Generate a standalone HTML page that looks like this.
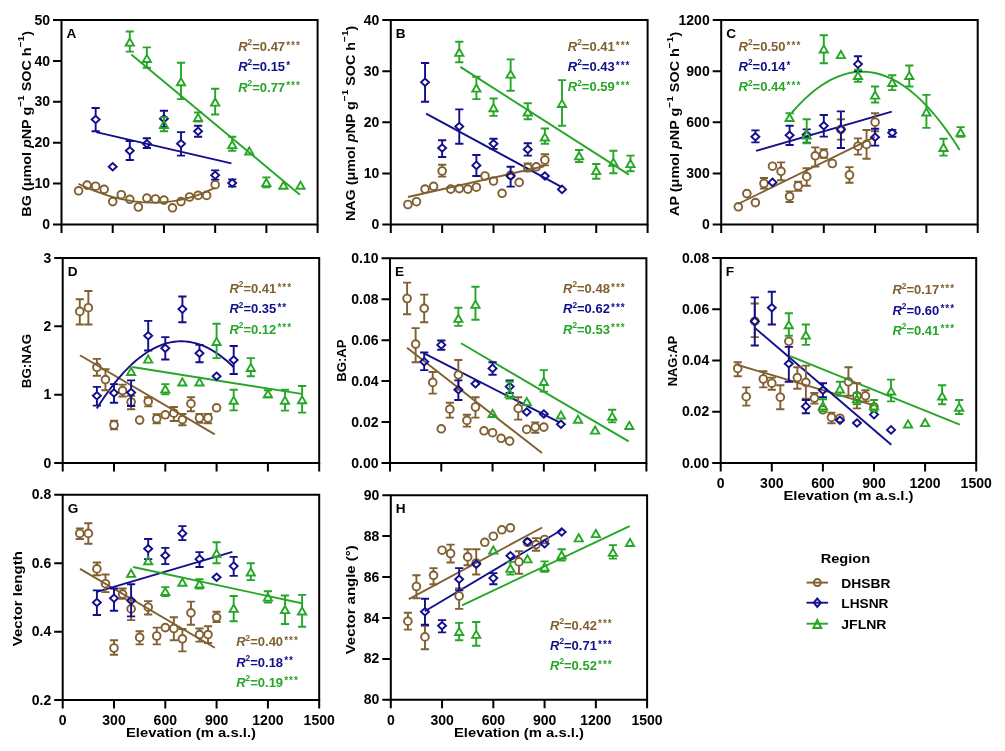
<!DOCTYPE html>
<html><head><meta charset="utf-8"><style>
html,body{margin:0;padding:0;background:#fff;width:1005px;height:751px;overflow:hidden}
svg{display:block;filter:blur(0.35px)}
text{font-family:"Liberation Sans", sans-serif;font-weight:bold}
.t{font-size:14px;fill:#000}
.yt{font-size:13.6px;fill:#000}
.st{font-size:10px;letter-spacing:1px}
.pl{font-size:13.6px;fill:#000}
.lg{font-size:13.6px;fill:#000}
.r{font-size:13px}
</style></head><body>
<svg width="1005" height="751" viewBox="0 0 1005 751">
<rect width="1005" height="751" fill="#fff"/>
<path d="M131.30 54.40L299.90 194.70" stroke="#26a626" stroke-width="1.9" fill="none"/>
<path d="M96.30 132.10L231.40 163.40" stroke="#120e8c" stroke-width="1.9" fill="none"/>
<path d="M78.50 183.84 L82.00 185.49 L85.50 187.07 L89.00 188.58 L92.50 190.02 L96.00 191.39 L99.50 192.69 L103.00 193.91 L106.50 195.05 L110.00 196.12 L113.50 197.12 L117.00 198.03 L120.50 198.86 L124.00 199.62 L127.50 200.29 L131.00 200.88 L134.50 201.39 L138.00 201.81 L141.50 202.15 L145.00 202.40 L148.50 202.56 L152.00 202.64 L155.50 202.62 L159.00 202.52 L162.50 202.32 L166.00 202.03 L169.50 201.65 L173.00 201.17 L176.50 200.60 L180.00 199.92 L183.50 199.16 L187.00 198.29 L190.50 197.32 L194.00 196.25 L197.50 195.08 L201.00 193.81 L204.50 192.43 L208.00 190.95 L211.50 189.36 L215.00 187.67" stroke="#806030" stroke-width="1.9" fill="none"/>
<circle cx="78.57" cy="190.80" r="3.85" fill="none" stroke="#806030" stroke-width="1.9"/>
<circle cx="87.11" cy="185.10" r="3.85" fill="none" stroke="#806030" stroke-width="1.9"/>
<circle cx="95.65" cy="186.20" r="3.85" fill="none" stroke="#806030" stroke-width="1.9"/>
<circle cx="104.18" cy="189.30" r="3.85" fill="none" stroke="#806030" stroke-width="1.9"/>
<circle cx="112.72" cy="201.60" r="3.85" fill="none" stroke="#806030" stroke-width="1.9"/>
<circle cx="121.26" cy="194.70" r="3.85" fill="none" stroke="#806030" stroke-width="1.9"/>
<circle cx="129.79" cy="199.30" r="3.85" fill="none" stroke="#806030" stroke-width="1.9"/>
<circle cx="138.33" cy="207.00" r="3.85" fill="none" stroke="#806030" stroke-width="1.9"/>
<circle cx="146.87" cy="198.10" r="3.85" fill="none" stroke="#806030" stroke-width="1.9"/>
<circle cx="155.40" cy="199.00" r="3.85" fill="none" stroke="#806030" stroke-width="1.9"/>
<circle cx="163.94" cy="200.10" r="3.85" fill="none" stroke="#806030" stroke-width="1.9"/>
<circle cx="172.48" cy="207.80" r="3.85" fill="none" stroke="#806030" stroke-width="1.9"/>
<circle cx="181.01" cy="201.60" r="3.85" fill="none" stroke="#806030" stroke-width="1.9"/>
<circle cx="189.55" cy="197.00" r="3.85" fill="none" stroke="#806030" stroke-width="1.9"/>
<circle cx="198.09" cy="195.40" r="3.85" fill="none" stroke="#806030" stroke-width="1.9"/>
<circle cx="206.62" cy="195.40" r="3.85" fill="none" stroke="#806030" stroke-width="1.9"/>
<circle cx="215.16" cy="184.70" r="3.85" fill="none" stroke="#806030" stroke-width="1.9"/>
<path d="M95.65 115.75V108.00M91.55 108.00H99.75M95.65 123.25V131.30M91.55 131.30H99.75" fill="none" stroke="#120e8c" stroke-width="1.9"/>
<path d="M91.65 119.50L95.65 115.75L99.65 119.50L95.65 123.25Z" fill="none" stroke="#120e8c" stroke-width="1.9"/>
<path d="M108.72 166.80L112.72 163.05L116.72 166.80L112.72 170.55Z" fill="none" stroke="#120e8c" stroke-width="1.9"/>
<path d="M129.79 147.05V141.00M125.69 141.00H133.89M129.79 154.55V160.00M125.69 160.00H133.89" fill="none" stroke="#120e8c" stroke-width="1.9"/>
<path d="M125.79 150.80L129.79 147.05L133.79 150.80L129.79 154.55Z" fill="none" stroke="#120e8c" stroke-width="1.9"/>
<path d="M146.87 140.05V138.20M142.77 138.20H150.97M146.87 147.55V148.00M142.77 148.00H150.97" fill="none" stroke="#120e8c" stroke-width="1.9"/>
<path d="M142.87 143.80L146.87 140.05L150.87 143.80L146.87 147.55Z" fill="none" stroke="#120e8c" stroke-width="1.9"/>
<path d="M163.94 114.95V110.80M159.84 110.80H168.04M163.94 122.45V127.00M159.84 127.00H168.04" fill="none" stroke="#120e8c" stroke-width="1.9"/>
<path d="M159.94 118.70L163.94 114.95L167.94 118.70L163.94 122.45Z" fill="none" stroke="#120e8c" stroke-width="1.9"/>
<path d="M181.01 140.05V132.10M176.91 132.10H185.11M181.01 147.55V155.60M176.91 155.60H185.11" fill="none" stroke="#120e8c" stroke-width="1.9"/>
<path d="M177.01 143.80L181.01 140.05L185.01 143.80L181.01 147.55Z" fill="none" stroke="#120e8c" stroke-width="1.9"/>
<path d="M198.09 127.55V125.70M193.99 125.70H202.19M198.09 135.05V136.80M193.99 136.80H202.19" fill="none" stroke="#120e8c" stroke-width="1.9"/>
<path d="M194.09 131.30L198.09 127.55L202.09 131.30L198.09 135.05Z" fill="none" stroke="#120e8c" stroke-width="1.9"/>
<path d="M215.16 171.45V170.40M211.06 170.40H219.26M215.16 178.95V179.60M211.06 179.60H219.26" fill="none" stroke="#120e8c" stroke-width="1.9"/>
<path d="M211.16 175.20L215.16 171.45L219.16 175.20L215.16 178.95Z" fill="none" stroke="#120e8c" stroke-width="1.9"/>
<path d="M228.13 179.40H236.33M228.13 186.60H236.33" fill="none" stroke="#120e8c" stroke-width="1.9"/>
<path d="M228.23 183.00L232.23 179.25L236.23 183.00L232.23 186.75Z" fill="none" stroke="#120e8c" stroke-width="1.9"/>
<path d="M129.79 38.50V31.50M125.69 31.50H133.89M129.79 45.65V51.60M125.69 51.60H133.89" fill="none" stroke="#26a626" stroke-width="1.9"/>
<path d="M129.79 38.50L133.89 45.65L125.69 45.65Z" fill="none" stroke="#26a626" stroke-width="1.9"/>
<path d="M146.87 54.90V47.40M142.77 47.40H150.97M146.87 62.05V67.80M142.77 67.80H150.97" fill="none" stroke="#26a626" stroke-width="1.9"/>
<path d="M146.87 54.90L150.97 62.05L142.77 62.05Z" fill="none" stroke="#26a626" stroke-width="1.9"/>
<path d="M163.94 120.90V117.30M159.84 117.30H168.04M163.94 128.05V131.30M159.84 131.30H168.04" fill="none" stroke="#26a626" stroke-width="1.9"/>
<path d="M163.94 120.90L168.04 128.05L159.84 128.05Z" fill="none" stroke="#26a626" stroke-width="1.9"/>
<path d="M181.01 78.10V62.70M176.91 62.70H185.11M181.01 85.25V99.10M176.91 99.10H185.11" fill="none" stroke="#26a626" stroke-width="1.9"/>
<path d="M181.01 78.10L185.11 85.25L176.91 85.25Z" fill="none" stroke="#26a626" stroke-width="1.9"/>
<path d="M198.09 113.90V112.50M193.99 112.50H202.19M198.09 121.05V121.50M193.99 121.50H202.19" fill="none" stroke="#26a626" stroke-width="1.9"/>
<path d="M198.09 113.90L202.19 121.05L193.99 121.05Z" fill="none" stroke="#26a626" stroke-width="1.9"/>
<path d="M215.16 98.50V88.70M211.06 88.70H219.26M215.16 105.65V114.50M211.06 114.50H219.26" fill="none" stroke="#26a626" stroke-width="1.9"/>
<path d="M215.16 98.50L219.26 105.65L211.06 105.65Z" fill="none" stroke="#26a626" stroke-width="1.9"/>
<path d="M232.23 141.00V136.80M228.13 136.80H236.33M232.23 148.15V150.80M228.13 150.80H236.33" fill="none" stroke="#26a626" stroke-width="1.9"/>
<path d="M232.23 141.00L236.33 148.15L228.13 148.15Z" fill="none" stroke="#26a626" stroke-width="1.9"/>
<path d="M249.31 147.40L253.41 154.55L245.21 154.55Z" fill="none" stroke="#26a626" stroke-width="1.9"/>
<path d="M266.38 179.00V177.40M262.28 177.40H270.48M266.38 186.15V187.20M262.28 187.20H270.48" fill="none" stroke="#26a626" stroke-width="1.9"/>
<path d="M266.38 179.00L270.48 186.15L262.28 186.15Z" fill="none" stroke="#26a626" stroke-width="1.9"/>
<path d="M283.45 181.60L287.55 188.75L279.35 188.75Z" fill="none" stroke="#26a626" stroke-width="1.9"/>
<path d="M300.53 181.60L304.63 188.75L296.43 188.75Z" fill="none" stroke="#26a626" stroke-width="1.9"/>
<path d="M61.5 20.0H317.6V224.5H61.5Z" fill="none" stroke="#000" stroke-width="2"/>
<path d="M53.00 224.50H61.5M53.00 183.60H61.5M53.00 142.70H61.5M53.00 101.80H61.5M53.00 60.90H61.5M53.00 20.00H61.5M61.50 224.5V233.00M112.72 224.5V233.00M163.94 224.5V233.00M215.16 224.5V233.00M266.38 224.5V233.00M317.60 224.5V233.00" stroke="#000" stroke-width="2" fill="none"/>
<text x="50.00" y="229.10" text-anchor="end" class="t">0</text>
<text x="50.00" y="188.20" text-anchor="end" class="t">10</text>
<text x="50.00" y="147.30" text-anchor="end" class="t">20</text>
<text x="50.00" y="106.40" text-anchor="end" class="t">30</text>
<text x="50.00" y="65.50" text-anchor="end" class="t">40</text>
<text x="50.00" y="24.60" text-anchor="end" class="t">50</text>
<text x="66.50" y="37.90" class="pl">A</text>
<text x="238.20" y="51.10" class="r" fill="#806030"><tspan font-style="italic">R</tspan><tspan font-size="8.3" dy="-5.9">2</tspan><tspan dy="5.9">=0.47</tspan></text>
<text x="286.20" y="48.70" class="st" fill="#806030">***</text>
<text x="238.20" y="71.30" class="r" fill="#120e8c"><tspan font-style="italic">R</tspan><tspan font-size="8.3" dy="-5.9">2</tspan><tspan dy="5.9">=0.15</tspan></text>
<text x="286.20" y="68.90" class="st" fill="#120e8c">*</text>
<text x="238.20" y="91.50" class="r" fill="#26a626"><tspan font-style="italic">R</tspan><tspan font-size="8.3" dy="-5.9">2</tspan><tspan dy="5.9">=0.77</tspan></text>
<text x="286.20" y="89.10" class="st" fill="#26a626">***</text>
<text transform="translate(30.60,123.85) rotate(-90)" x="-92.85" y="0" textLength="185.7" lengthAdjust="spacingAndGlyphs" class="yt"><tspan>BG (</tspan><tspan>μmol </tspan><tspan font-style="italic">p</tspan><tspan>NP g</tspan><tspan font-size="9.6" dy="-6.5">−1</tspan><tspan dy="6.5">​</tspan><tspan> SOC h</tspan><tspan font-size="9.6" dy="-6.5">−1</tspan><tspan dy="6.5">​</tspan><tspan>)</tspan></text>
<path d="M460.30 66.90L628.90 174.60" stroke="#26a626" stroke-width="1.9" fill="none"/>
<path d="M426.10 113.60L561.80 187.20" stroke="#120e8c" stroke-width="1.9" fill="none"/>
<path d="M408.00 197.00L544.20 166.20" stroke="#806030" stroke-width="1.9" fill="none"/>
<circle cx="407.92" cy="204.50" r="3.85" fill="none" stroke="#806030" stroke-width="1.9"/>
<circle cx="416.48" cy="201.70" r="3.85" fill="none" stroke="#806030" stroke-width="1.9"/>
<circle cx="425.04" cy="189.10" r="3.85" fill="none" stroke="#806030" stroke-width="1.9"/>
<circle cx="433.60" cy="186.30" r="3.85" fill="none" stroke="#806030" stroke-width="1.9"/>
<path d="M442.16 167.15V164.80M438.06 164.80H446.26M442.16 174.85V176.60M438.06 176.60H446.26" fill="none" stroke="#806030" stroke-width="1.9"/>
<circle cx="442.16" cy="171.00" r="3.85" fill="none" stroke="#806030" stroke-width="1.9"/>
<circle cx="450.72" cy="189.10" r="3.85" fill="none" stroke="#806030" stroke-width="1.9"/>
<circle cx="459.28" cy="188.60" r="3.85" fill="none" stroke="#806030" stroke-width="1.9"/>
<circle cx="467.84" cy="189.10" r="3.85" fill="none" stroke="#806030" stroke-width="1.9"/>
<circle cx="476.40" cy="187.20" r="3.85" fill="none" stroke="#806030" stroke-width="1.9"/>
<circle cx="484.96" cy="176.00" r="3.85" fill="none" stroke="#806030" stroke-width="1.9"/>
<circle cx="493.52" cy="181.00" r="3.85" fill="none" stroke="#806030" stroke-width="1.9"/>
<circle cx="502.08" cy="193.30" r="3.85" fill="none" stroke="#806030" stroke-width="1.9"/>
<circle cx="510.64" cy="175.20" r="3.85" fill="none" stroke="#806030" stroke-width="1.9"/>
<circle cx="519.20" cy="182.40" r="3.85" fill="none" stroke="#806030" stroke-width="1.9"/>
<path d="M527.76 163.75V163.40M523.66 163.40H531.86M523.66 171.40H531.86" fill="none" stroke="#806030" stroke-width="1.9"/>
<circle cx="527.76" cy="167.60" r="3.85" fill="none" stroke="#806030" stroke-width="1.9"/>
<circle cx="536.32" cy="166.80" r="3.85" fill="none" stroke="#806030" stroke-width="1.9"/>
<path d="M544.88 156.15V154.20M540.78 154.20H548.98M544.88 163.85V165.40M540.78 165.40H548.98" fill="none" stroke="#806030" stroke-width="1.9"/>
<circle cx="544.88" cy="160.00" r="3.85" fill="none" stroke="#806030" stroke-width="1.9"/>
<path d="M425.04 78.55V63.00M420.94 63.00H429.14M425.04 86.05V101.70M420.94 101.70H429.14" fill="none" stroke="#120e8c" stroke-width="1.9"/>
<path d="M421.04 82.30L425.04 78.55L429.04 82.30L425.04 86.05Z" fill="none" stroke="#120e8c" stroke-width="1.9"/>
<path d="M442.16 144.25V140.20M438.06 140.20H446.26M442.16 151.75V157.00M438.06 157.00H446.26" fill="none" stroke="#120e8c" stroke-width="1.9"/>
<path d="M438.16 148.00L442.16 144.25L446.16 148.00L442.16 151.75Z" fill="none" stroke="#120e8c" stroke-width="1.9"/>
<path d="M459.28 122.75V109.40M455.18 109.40H463.38M459.28 130.25V143.80M455.18 143.80H463.38" fill="none" stroke="#120e8c" stroke-width="1.9"/>
<path d="M455.28 126.50L459.28 122.75L463.28 126.50L459.28 130.25Z" fill="none" stroke="#120e8c" stroke-width="1.9"/>
<path d="M476.40 161.65V155.00M472.30 155.00H480.50M476.40 169.15V176.00M472.30 176.00H480.50" fill="none" stroke="#120e8c" stroke-width="1.9"/>
<path d="M472.40 165.40L476.40 161.65L480.40 165.40L476.40 169.15Z" fill="none" stroke="#120e8c" stroke-width="1.9"/>
<path d="M493.52 140.05V138.80M489.42 138.80H497.62M493.52 147.55V148.90M489.42 148.90H497.62" fill="none" stroke="#120e8c" stroke-width="1.9"/>
<path d="M489.52 143.80L493.52 140.05L497.52 143.80L493.52 147.55Z" fill="none" stroke="#120e8c" stroke-width="1.9"/>
<path d="M510.64 172.25V166.80M506.54 166.80H514.74M510.64 179.75V186.60M506.54 186.60H514.74" fill="none" stroke="#120e8c" stroke-width="1.9"/>
<path d="M506.64 176.00L510.64 172.25L514.64 176.00L510.64 179.75Z" fill="none" stroke="#120e8c" stroke-width="1.9"/>
<path d="M527.76 145.65V143.30M523.66 143.30H531.86M527.76 153.15V155.60M523.66 155.60H531.86" fill="none" stroke="#120e8c" stroke-width="1.9"/>
<path d="M523.76 149.40L527.76 145.65L531.76 149.40L527.76 153.15Z" fill="none" stroke="#120e8c" stroke-width="1.9"/>
<path d="M540.88 176.00L544.88 172.25L548.88 176.00L544.88 179.75Z" fill="none" stroke="#120e8c" stroke-width="1.9"/>
<path d="M558.00 189.40L562.00 185.65L566.00 189.40L562.00 193.15Z" fill="none" stroke="#120e8c" stroke-width="1.9"/>
<path d="M459.28 48.70V41.80M455.18 41.80H463.38M459.28 55.85V62.20M455.18 62.20H463.38" fill="none" stroke="#26a626" stroke-width="1.9"/>
<path d="M459.28 48.70L463.38 55.85L455.18 55.85Z" fill="none" stroke="#26a626" stroke-width="1.9"/>
<path d="M476.40 84.50V76.70M472.30 76.70H480.50M476.40 91.65V99.10M472.30 99.10H480.50" fill="none" stroke="#26a626" stroke-width="1.9"/>
<path d="M476.40 84.50L480.50 91.65L472.30 91.65Z" fill="none" stroke="#26a626" stroke-width="1.9"/>
<path d="M493.52 104.10V98.50M489.42 98.50H497.62M493.52 111.25V115.90M489.42 115.90H497.62" fill="none" stroke="#26a626" stroke-width="1.9"/>
<path d="M493.52 104.10L497.62 111.25L489.42 111.25Z" fill="none" stroke="#26a626" stroke-width="1.9"/>
<path d="M510.64 70.50V59.40M506.54 59.40H514.74M510.64 77.65V90.70M506.54 90.70H514.74" fill="none" stroke="#26a626" stroke-width="1.9"/>
<path d="M510.64 70.50L514.74 77.65L506.54 77.65Z" fill="none" stroke="#26a626" stroke-width="1.9"/>
<path d="M527.76 108.30V103.30M523.66 103.30H531.86M527.76 115.45V119.20M523.66 119.20H531.86" fill="none" stroke="#26a626" stroke-width="1.9"/>
<path d="M527.76 108.30L531.86 115.45L523.66 115.45Z" fill="none" stroke="#26a626" stroke-width="1.9"/>
<path d="M544.88 133.40V128.50M540.78 128.50H548.98M544.88 140.55V143.80M540.78 143.80H548.98" fill="none" stroke="#26a626" stroke-width="1.9"/>
<path d="M544.88 133.40L548.98 140.55L540.78 140.55Z" fill="none" stroke="#26a626" stroke-width="1.9"/>
<path d="M562.00 99.90V80.10M557.90 80.10H566.10M562.00 107.05V125.70M557.90 125.70H566.10" fill="none" stroke="#26a626" stroke-width="1.9"/>
<path d="M562.00 99.90L566.10 107.05L557.90 107.05Z" fill="none" stroke="#26a626" stroke-width="1.9"/>
<path d="M579.12 152.20V150.00M575.02 150.00H583.22M579.12 159.35V162.00M575.02 162.00H583.22" fill="none" stroke="#26a626" stroke-width="1.9"/>
<path d="M579.12 152.20L583.22 159.35L575.02 159.35Z" fill="none" stroke="#26a626" stroke-width="1.9"/>
<path d="M596.24 167.00V164.00M592.14 164.00H600.34M596.24 174.15V178.80M592.14 178.80H600.34" fill="none" stroke="#26a626" stroke-width="1.9"/>
<path d="M596.24 167.00L600.34 174.15L592.14 174.15Z" fill="none" stroke="#26a626" stroke-width="1.9"/>
<path d="M613.36 158.60V150.80M609.26 150.80H617.46M613.36 165.75V173.20M609.26 173.20H617.46" fill="none" stroke="#26a626" stroke-width="1.9"/>
<path d="M613.36 158.60L617.46 165.75L609.26 165.75Z" fill="none" stroke="#26a626" stroke-width="1.9"/>
<path d="M630.48 160.00V155.60M626.38 155.60H634.58M630.48 167.15V171.20M626.38 171.20H634.58" fill="none" stroke="#26a626" stroke-width="1.9"/>
<path d="M630.48 160.00L634.58 167.15L626.38 167.15Z" fill="none" stroke="#26a626" stroke-width="1.9"/>
<path d="M390.8 20.0H647.6V224.6H390.8Z" fill="none" stroke="#000" stroke-width="2"/>
<path d="M382.30 224.60H390.8M382.30 173.45H390.8M382.30 122.30H390.8M382.30 71.15H390.8M382.30 20.00H390.8M390.80 224.6V233.10M442.16 224.6V233.10M493.52 224.6V233.10M544.88 224.6V233.10M596.24 224.6V233.10M647.60 224.6V233.10" stroke="#000" stroke-width="2" fill="none"/>
<text x="379.30" y="229.20" text-anchor="end" class="t">0</text>
<text x="379.30" y="178.05" text-anchor="end" class="t">10</text>
<text x="379.30" y="126.90" text-anchor="end" class="t">20</text>
<text x="379.30" y="75.75" text-anchor="end" class="t">30</text>
<text x="379.30" y="24.60" text-anchor="end" class="t">40</text>
<text x="395.80" y="37.90" class="pl">B</text>
<text x="567.80" y="51.00" class="r" fill="#806030"><tspan font-style="italic">R</tspan><tspan font-size="8.3" dy="-5.9">2</tspan><tspan dy="5.9">=0.41</tspan></text>
<text x="615.80" y="48.60" class="st" fill="#806030">***</text>
<text x="567.80" y="71.20" class="r" fill="#120e8c"><tspan font-style="italic">R</tspan><tspan font-size="8.3" dy="-5.9">2</tspan><tspan dy="5.9">=0.43</tspan></text>
<text x="615.80" y="68.80" class="st" fill="#120e8c">***</text>
<text x="567.80" y="91.40" class="r" fill="#26a626"><tspan font-style="italic">R</tspan><tspan font-size="8.3" dy="-5.9">2</tspan><tspan dy="5.9">=0.59</tspan></text>
<text x="615.80" y="89.00" class="st" fill="#26a626">***</text>
<text transform="translate(354.60,123.35) rotate(-90)" x="-97.75" y="0" textLength="195.5" lengthAdjust="spacingAndGlyphs" class="yt"><tspan>NAG (</tspan><tspan>μmol </tspan><tspan font-style="italic">p</tspan><tspan>NP g</tspan><tspan font-size="9.6" dy="-6.5">−1</tspan><tspan dy="6.5">​</tspan><tspan> SOC h</tspan><tspan font-size="9.6" dy="-6.5">−1</tspan><tspan dy="6.5">​</tspan><tspan>)</tspan></text>
<path d="M792.00 112.50 L796.30 107.66 L800.60 103.13 L804.90 98.90 L809.20 94.98 L813.50 91.36 L817.80 88.05 L822.10 85.04 L826.40 82.34 L830.70 79.95 L835.00 77.85 L839.30 76.07 L843.60 74.59 L847.90 73.41 L852.20 72.54 L856.50 71.98 L860.80 71.72 L865.10 71.76 L869.40 72.12 L873.70 72.77 L878.00 73.73 L882.30 75.00 L886.60 76.57 L890.90 78.45 L895.20 80.63 L899.50 83.12 L903.80 85.91 L908.10 89.01 L912.40 92.41 L916.70 96.12 L921.00 100.14 L925.30 104.46 L929.60 109.08 L933.90 114.01 L938.20 119.25 L942.50 124.79 L946.80 130.63 L951.10 136.78 L955.40 143.24 L959.70 150.00" stroke="#26a626" stroke-width="1.9" fill="none"/>
<path d="M756.10 150.80L891.80 111.70" stroke="#120e8c" stroke-width="1.9" fill="none"/>
<path d="M738.00 204.00L875.00 136.80" stroke="#806030" stroke-width="1.9" fill="none"/>
<circle cx="738.30" cy="206.80" r="3.85" fill="none" stroke="#806030" stroke-width="1.9"/>
<circle cx="746.85" cy="193.60" r="3.85" fill="none" stroke="#806030" stroke-width="1.9"/>
<circle cx="755.40" cy="202.60" r="3.85" fill="none" stroke="#806030" stroke-width="1.9"/>
<path d="M763.95 179.65V178.00M759.85 178.00H768.05M763.95 187.35V188.60M759.85 188.60H768.05" fill="none" stroke="#806030" stroke-width="1.9"/>
<circle cx="763.95" cy="183.50" r="3.85" fill="none" stroke="#806030" stroke-width="1.9"/>
<circle cx="772.50" cy="166.20" r="3.85" fill="none" stroke="#806030" stroke-width="1.9"/>
<path d="M781.05 167.45V162.40M776.95 162.40H785.15M781.05 175.15V180.30M776.95 180.30H785.15" fill="none" stroke="#806030" stroke-width="1.9"/>
<circle cx="781.05" cy="171.30" r="3.85" fill="none" stroke="#806030" stroke-width="1.9"/>
<path d="M789.60 192.55V191.40M785.50 191.40H793.70M789.60 200.25V202.00M785.50 202.00H793.70" fill="none" stroke="#806030" stroke-width="1.9"/>
<circle cx="789.60" cy="196.40" r="3.85" fill="none" stroke="#806030" stroke-width="1.9"/>
<path d="M798.15 182.05V181.60M794.05 181.60H802.25M798.15 189.75V190.80M794.05 190.80H802.25" fill="none" stroke="#806030" stroke-width="1.9"/>
<circle cx="798.15" cy="185.90" r="3.85" fill="none" stroke="#806030" stroke-width="1.9"/>
<path d="M806.70 172.85V168.30M802.60 168.30H810.80M806.70 180.55V185.70M802.60 185.70H810.80" fill="none" stroke="#806030" stroke-width="1.9"/>
<circle cx="806.70" cy="176.70" r="3.85" fill="none" stroke="#806030" stroke-width="1.9"/>
<path d="M815.25 151.95V147.40M811.15 147.40H819.35M815.25 159.65V166.50M811.15 166.50H819.35" fill="none" stroke="#806030" stroke-width="1.9"/>
<circle cx="815.25" cy="155.80" r="3.85" fill="none" stroke="#806030" stroke-width="1.9"/>
<path d="M823.80 150.15V149.20M819.70 149.20H827.90M819.70 157.80H827.90" fill="none" stroke="#806030" stroke-width="1.9"/>
<circle cx="823.80" cy="154.00" r="3.85" fill="none" stroke="#806030" stroke-width="1.9"/>
<circle cx="832.35" cy="163.50" r="3.85" fill="none" stroke="#806030" stroke-width="1.9"/>
<path d="M840.90 125.55V119.20M836.80 119.20H845.00M840.90 133.25V139.60M836.80 139.60H845.00" fill="none" stroke="#806030" stroke-width="1.9"/>
<circle cx="840.90" cy="129.40" r="3.85" fill="none" stroke="#806030" stroke-width="1.9"/>
<path d="M849.45 171.15V167.10M845.35 167.10H853.55M849.45 178.85V182.70M845.35 182.70H853.55" fill="none" stroke="#806030" stroke-width="1.9"/>
<circle cx="849.45" cy="175.00" r="3.85" fill="none" stroke="#806030" stroke-width="1.9"/>
<path d="M858.00 142.35V138.40M853.90 138.40H862.10M858.00 150.05V154.60M853.90 154.60H862.10" fill="none" stroke="#806030" stroke-width="1.9"/>
<circle cx="858.00" cy="146.20" r="3.85" fill="none" stroke="#806030" stroke-width="1.9"/>
<path d="M866.55 140.55V130.00M862.45 130.00H870.65M866.55 148.25V158.80M862.45 158.80H870.65" fill="none" stroke="#806030" stroke-width="1.9"/>
<circle cx="866.55" cy="144.40" r="3.85" fill="none" stroke="#806030" stroke-width="1.9"/>
<path d="M875.10 118.35V113.20M871.00 113.20H879.20M875.10 126.05V131.30M871.00 131.30H879.20" fill="none" stroke="#806030" stroke-width="1.9"/>
<circle cx="875.10" cy="122.20" r="3.85" fill="none" stroke="#806030" stroke-width="1.9"/>
<path d="M755.40 133.05V130.40M751.30 130.40H759.50M755.40 140.55V142.40M751.30 142.40H759.50" fill="none" stroke="#120e8c" stroke-width="1.9"/>
<path d="M751.40 136.80L755.40 133.05L759.40 136.80L755.40 140.55Z" fill="none" stroke="#120e8c" stroke-width="1.9"/>
<path d="M768.50 182.40L772.50 178.65L776.50 182.40L772.50 186.15Z" fill="none" stroke="#120e8c" stroke-width="1.9"/>
<path d="M789.60 131.45V125.80M785.50 125.80H793.70M789.60 138.95V145.00M785.50 145.00H793.70" fill="none" stroke="#120e8c" stroke-width="1.9"/>
<path d="M785.60 135.20L789.60 131.45L793.60 135.20L789.60 138.95Z" fill="none" stroke="#120e8c" stroke-width="1.9"/>
<path d="M806.70 131.05V129.40M802.60 129.40H810.80M806.70 138.55V142.60M802.60 142.60H810.80" fill="none" stroke="#120e8c" stroke-width="1.9"/>
<path d="M802.70 134.80L806.70 131.05L810.70 134.80L806.70 138.55Z" fill="none" stroke="#120e8c" stroke-width="1.9"/>
<path d="M823.80 122.05V115.00M819.70 115.00H827.90M823.80 129.55V136.60M819.70 136.60H827.90" fill="none" stroke="#120e8c" stroke-width="1.9"/>
<path d="M819.80 125.80L823.80 122.05L827.80 125.80L823.80 129.55Z" fill="none" stroke="#120e8c" stroke-width="1.9"/>
<path d="M840.90 125.65V111.40M836.80 111.40H845.00M840.90 133.15V148.00M836.80 148.00H845.00" fill="none" stroke="#120e8c" stroke-width="1.9"/>
<path d="M836.90 129.40L840.90 125.65L844.90 129.40L840.90 133.15Z" fill="none" stroke="#120e8c" stroke-width="1.9"/>
<path d="M858.00 60.35V56.30M853.90 56.30H862.10M858.00 67.85V71.10M853.90 71.10H862.10" fill="none" stroke="#120e8c" stroke-width="1.9"/>
<path d="M854.00 64.10L858.00 60.35L862.00 64.10L858.00 67.85Z" fill="none" stroke="#120e8c" stroke-width="1.9"/>
<path d="M875.10 133.45V128.80M871.00 128.80H879.20M875.10 140.95V145.60M871.00 145.60H879.20" fill="none" stroke="#120e8c" stroke-width="1.9"/>
<path d="M871.10 137.20L875.10 133.45L879.10 137.20L875.10 140.95Z" fill="none" stroke="#120e8c" stroke-width="1.9"/>
<path d="M888.10 129.90H896.30M892.20 136.45V136.80M888.10 136.80H896.30" fill="none" stroke="#120e8c" stroke-width="1.9"/>
<path d="M888.20 132.70L892.20 128.95L896.20 132.70L892.20 136.45Z" fill="none" stroke="#120e8c" stroke-width="1.9"/>
<path d="M789.60 114.00V113.20M785.50 113.20H793.70M785.50 120.90H793.70" fill="none" stroke="#26a626" stroke-width="1.9"/>
<path d="M789.60 114.00L793.70 121.15L785.50 121.15Z" fill="none" stroke="#26a626" stroke-width="1.9"/>
<path d="M806.70 131.40V119.20M802.60 119.20H810.80M806.70 138.55V143.20M802.60 143.20H810.80" fill="none" stroke="#26a626" stroke-width="1.9"/>
<path d="M806.70 131.40L810.80 138.55L802.60 138.55Z" fill="none" stroke="#26a626" stroke-width="1.9"/>
<path d="M823.80 45.40V35.30M819.70 35.30H827.90M823.80 52.55V63.30M819.70 63.30H827.90" fill="none" stroke="#26a626" stroke-width="1.9"/>
<path d="M823.80 45.40L827.90 52.55L819.70 52.55Z" fill="none" stroke="#26a626" stroke-width="1.9"/>
<path d="M840.90 51.00L845.00 58.15L836.80 58.15Z" fill="none" stroke="#26a626" stroke-width="1.9"/>
<path d="M858.00 71.90V69.70M853.90 69.70H862.10M858.00 79.05V81.80M853.90 81.80H862.10" fill="none" stroke="#26a626" stroke-width="1.9"/>
<path d="M858.00 71.90L862.10 79.05L853.90 79.05Z" fill="none" stroke="#26a626" stroke-width="1.9"/>
<path d="M875.10 91.50V86.50M871.00 86.50H879.20M875.10 98.65V102.50M871.00 102.50H879.20" fill="none" stroke="#26a626" stroke-width="1.9"/>
<path d="M875.10 91.50L879.20 98.65L871.00 98.65Z" fill="none" stroke="#26a626" stroke-width="1.9"/>
<path d="M892.20 78.90V75.30M888.10 75.30H896.30M892.20 86.05V90.10M888.10 90.10H896.30" fill="none" stroke="#26a626" stroke-width="1.9"/>
<path d="M892.20 78.90L896.30 86.05L888.10 86.05Z" fill="none" stroke="#26a626" stroke-width="1.9"/>
<path d="M909.30 71.90V65.50M905.20 65.50H913.40M909.30 79.05V86.50M905.20 86.50H913.40" fill="none" stroke="#26a626" stroke-width="1.9"/>
<path d="M909.30 71.90L913.40 79.05L905.20 79.05Z" fill="none" stroke="#26a626" stroke-width="1.9"/>
<path d="M926.40 108.30V94.90M922.30 94.90H930.50M926.40 115.45V127.90M922.30 127.90H930.50" fill="none" stroke="#26a626" stroke-width="1.9"/>
<path d="M926.40 108.30L930.50 115.45L922.30 115.45Z" fill="none" stroke="#26a626" stroke-width="1.9"/>
<path d="M943.50 143.80V138.80M939.40 138.80H947.60M943.50 150.95V155.60M939.40 155.60H947.60" fill="none" stroke="#26a626" stroke-width="1.9"/>
<path d="M943.50 143.80L947.60 150.95L939.40 150.95Z" fill="none" stroke="#26a626" stroke-width="1.9"/>
<path d="M960.60 128.70V127.10M956.50 127.10H964.70M960.60 135.85V136.80M956.50 136.80H964.70" fill="none" stroke="#26a626" stroke-width="1.9"/>
<path d="M960.60 128.70L964.70 135.85L956.50 135.85Z" fill="none" stroke="#26a626" stroke-width="1.9"/>
<path d="M721.2 20.0H977.7V224.6H721.2Z" fill="none" stroke="#000" stroke-width="2"/>
<path d="M712.70 224.60H721.2M712.70 173.45H721.2M712.70 122.30H721.2M712.70 71.15H721.2M712.70 20.00H721.2M721.20 224.6V233.10M772.50 224.6V233.10M823.80 224.6V233.10M875.10 224.6V233.10M926.40 224.6V233.10M977.70 224.6V233.10" stroke="#000" stroke-width="2" fill="none"/>
<text x="709.70" y="229.20" text-anchor="end" class="t">0</text>
<text x="709.70" y="178.05" text-anchor="end" class="t">300</text>
<text x="709.70" y="126.90" text-anchor="end" class="t">600</text>
<text x="709.70" y="75.75" text-anchor="end" class="t">900</text>
<text x="709.70" y="24.60" text-anchor="end" class="t">1200</text>
<text x="726.20" y="37.90" class="pl">C</text>
<text x="738.60" y="51.00" class="r" fill="#806030"><tspan font-style="italic">R</tspan><tspan font-size="8.3" dy="-5.9">2</tspan><tspan dy="5.9">=0.50</tspan></text>
<text x="786.60" y="48.60" class="st" fill="#806030">***</text>
<text x="738.60" y="71.20" class="r" fill="#120e8c"><tspan font-style="italic">R</tspan><tspan font-size="8.3" dy="-5.9">2</tspan><tspan dy="5.9">=0.14</tspan></text>
<text x="786.60" y="68.80" class="st" fill="#120e8c">*</text>
<text x="738.60" y="91.40" class="r" fill="#26a626"><tspan font-style="italic">R</tspan><tspan font-size="8.3" dy="-5.9">2</tspan><tspan dy="5.9">=0.44</tspan></text>
<text x="786.60" y="89.00" class="st" fill="#26a626">***</text>
<text transform="translate(679.30,123.85) rotate(-90)" x="-92.05" y="0" textLength="184.1" lengthAdjust="spacingAndGlyphs" class="yt"><tspan>AP (</tspan><tspan>μmol </tspan><tspan font-style="italic">p</tspan><tspan>NP g</tspan><tspan font-size="9.6" dy="-6.5">−1</tspan><tspan dy="6.5">​</tspan><tspan> SOC h</tspan><tspan font-size="9.6" dy="-6.5">−1</tspan><tspan dy="6.5">​</tspan><tspan>)</tspan></text>
<path d="M80.00 355.30L214.80 434.40" stroke="#806030" stroke-width="1.9" fill="none"/>
<path d="M96.80 408.40 L100.31 402.93 L103.83 397.70 L107.34 392.70 L110.85 387.92 L114.36 383.39 L117.88 379.08 L121.39 375.01 L124.90 371.17 L128.42 367.56 L131.93 364.18 L135.44 361.04 L138.95 358.12 L142.47 355.44 L145.98 353.00 L149.49 350.78 L153.01 348.80 L156.52 347.05 L160.03 345.53 L163.54 344.24 L167.06 343.19 L170.57 342.37 L174.08 341.78 L177.59 341.42 L181.11 341.30 L184.62 341.40 L188.13 341.74 L191.65 342.32 L195.16 343.12 L198.67 344.16 L202.18 345.43 L205.70 346.93 L209.21 348.66 L212.72 350.63 L216.24 352.82 L219.75 355.26 L223.26 357.92 L226.77 360.81 L230.29 363.94 L233.80 367.30" stroke="#120e8c" stroke-width="1.9" fill="none"/>
<path d="M132.30 367.00L301.70 393.90" stroke="#26a626" stroke-width="1.9" fill="none"/>
<path d="M79.80 307.55V299.30M75.70 299.30H83.90M79.80 315.25V324.50M75.70 324.50H83.90" fill="none" stroke="#806030" stroke-width="1.9"/>
<circle cx="79.80" cy="311.40" r="3.85" fill="none" stroke="#806030" stroke-width="1.9"/>
<path d="M88.35 303.85V291.00M84.25 291.00H92.45M88.35 311.55V324.50M84.25 324.50H92.45" fill="none" stroke="#806030" stroke-width="1.9"/>
<circle cx="88.35" cy="307.70" r="3.85" fill="none" stroke="#806030" stroke-width="1.9"/>
<path d="M96.90 363.45V358.90M92.80 358.90H101.00M96.90 371.15V375.70M92.80 375.70H101.00" fill="none" stroke="#806030" stroke-width="1.9"/>
<circle cx="96.90" cy="367.30" r="3.85" fill="none" stroke="#806030" stroke-width="1.9"/>
<path d="M105.45 375.75V369.30M101.35 369.30H109.55M105.45 383.45V390.20M101.35 390.20H109.55" fill="none" stroke="#806030" stroke-width="1.9"/>
<circle cx="105.45" cy="379.60" r="3.85" fill="none" stroke="#806030" stroke-width="1.9"/>
<path d="M114.00 421.15V420.80M109.90 420.80H118.10M114.00 428.85V429.40M109.90 429.40H118.10" fill="none" stroke="#806030" stroke-width="1.9"/>
<circle cx="114.00" cy="425.00" r="3.85" fill="none" stroke="#806030" stroke-width="1.9"/>
<path d="M122.55 386.75V384.60M118.45 384.60H126.65M122.55 394.45V396.50M118.45 396.50H126.65" fill="none" stroke="#806030" stroke-width="1.9"/>
<circle cx="122.55" cy="390.60" r="3.85" fill="none" stroke="#806030" stroke-width="1.9"/>
<path d="M131.10 398.15V395.80M127.00 395.80H135.20M131.10 405.85V409.20M127.00 409.20H135.20" fill="none" stroke="#806030" stroke-width="1.9"/>
<circle cx="131.10" cy="402.00" r="3.85" fill="none" stroke="#806030" stroke-width="1.9"/>
<circle cx="139.65" cy="420.10" r="3.85" fill="none" stroke="#806030" stroke-width="1.9"/>
<path d="M148.20 397.55V397.20M144.10 397.20H152.30M148.20 405.25V406.40M144.10 406.40H152.30" fill="none" stroke="#806030" stroke-width="1.9"/>
<circle cx="148.20" cy="401.40" r="3.85" fill="none" stroke="#806030" stroke-width="1.9"/>
<path d="M156.75 414.85V414.20M152.65 414.20H160.85M156.75 422.55V423.20M152.65 423.20H160.85" fill="none" stroke="#806030" stroke-width="1.9"/>
<circle cx="156.75" cy="418.70" r="3.85" fill="none" stroke="#806030" stroke-width="1.9"/>
<circle cx="165.30" cy="414.80" r="3.85" fill="none" stroke="#806030" stroke-width="1.9"/>
<path d="M173.85 409.35V407.00M169.75 407.00H177.95M173.85 417.05V421.00M169.75 421.00H177.95" fill="none" stroke="#806030" stroke-width="1.9"/>
<circle cx="173.85" cy="413.20" r="3.85" fill="none" stroke="#806030" stroke-width="1.9"/>
<path d="M182.40 415.75V414.00M178.30 414.00H186.50M182.40 423.45V425.20M178.30 425.20H186.50" fill="none" stroke="#806030" stroke-width="1.9"/>
<circle cx="182.40" cy="419.60" r="3.85" fill="none" stroke="#806030" stroke-width="1.9"/>
<path d="M190.95 399.85V397.20M186.85 397.20H195.05M190.95 407.55V411.20M186.85 411.20H195.05" fill="none" stroke="#806030" stroke-width="1.9"/>
<circle cx="190.95" cy="403.70" r="3.85" fill="none" stroke="#806030" stroke-width="1.9"/>
<path d="M199.50 414.15V413.90M195.40 413.90H203.60M199.50 421.85V422.90M195.40 422.90H203.60" fill="none" stroke="#806030" stroke-width="1.9"/>
<circle cx="199.50" cy="418.00" r="3.85" fill="none" stroke="#806030" stroke-width="1.9"/>
<path d="M208.05 414.15V413.90M203.95 413.90H212.15M208.05 421.85V423.30M203.95 423.30H212.15" fill="none" stroke="#806030" stroke-width="1.9"/>
<circle cx="208.05" cy="418.00" r="3.85" fill="none" stroke="#806030" stroke-width="1.9"/>
<circle cx="216.60" cy="407.80" r="3.85" fill="none" stroke="#806030" stroke-width="1.9"/>
<path d="M96.90 392.05V386.90M92.80 386.90H101.00M96.90 399.55V405.60M92.80 405.60H101.00" fill="none" stroke="#120e8c" stroke-width="1.9"/>
<path d="M92.90 395.80L96.90 392.05L100.90 395.80L96.90 399.55Z" fill="none" stroke="#120e8c" stroke-width="1.9"/>
<path d="M114.00 389.25V384.10M109.90 384.10H118.10M114.00 396.75V402.80M109.90 402.80H118.10" fill="none" stroke="#120e8c" stroke-width="1.9"/>
<path d="M110.00 393.00L114.00 389.25L118.00 393.00L114.00 396.75Z" fill="none" stroke="#120e8c" stroke-width="1.9"/>
<path d="M131.10 388.75V380.40M127.00 380.40H135.20M131.10 396.25V406.00M127.00 406.00H135.20" fill="none" stroke="#120e8c" stroke-width="1.9"/>
<path d="M127.10 392.50L131.10 388.75L135.10 392.50L131.10 396.25Z" fill="none" stroke="#120e8c" stroke-width="1.9"/>
<path d="M148.20 331.95V320.90M144.10 320.90H152.30M148.20 339.45V350.50M144.10 350.50H152.30" fill="none" stroke="#120e8c" stroke-width="1.9"/>
<path d="M144.20 335.70L148.20 331.95L152.20 335.70L148.20 339.45Z" fill="none" stroke="#120e8c" stroke-width="1.9"/>
<path d="M165.30 344.55V337.10M161.20 337.10H169.40M165.30 352.05V359.50M161.20 359.50H169.40" fill="none" stroke="#120e8c" stroke-width="1.9"/>
<path d="M161.30 348.30L165.30 344.55L169.30 348.30L165.30 352.05Z" fill="none" stroke="#120e8c" stroke-width="1.9"/>
<path d="M182.40 305.35V296.50M178.30 296.50H186.50M182.40 312.85V322.30M178.30 322.30H186.50" fill="none" stroke="#120e8c" stroke-width="1.9"/>
<path d="M178.40 309.10L182.40 305.35L186.40 309.10L182.40 312.85Z" fill="none" stroke="#120e8c" stroke-width="1.9"/>
<path d="M199.50 349.55V344.90M195.40 344.90H203.60M199.50 357.05V362.30M195.40 362.30H203.60" fill="none" stroke="#120e8c" stroke-width="1.9"/>
<path d="M195.50 353.30L199.50 349.55L203.50 353.30L199.50 357.05Z" fill="none" stroke="#120e8c" stroke-width="1.9"/>
<path d="M212.60 376.20L216.60 372.45L220.60 376.20L216.60 379.95Z" fill="none" stroke="#120e8c" stroke-width="1.9"/>
<path d="M233.70 356.25V346.00M229.60 346.00H237.80M233.70 363.75V374.00M229.60 374.00H237.80" fill="none" stroke="#120e8c" stroke-width="1.9"/>
<path d="M229.70 360.00L233.70 356.25L237.70 360.00L233.70 363.75Z" fill="none" stroke="#120e8c" stroke-width="1.9"/>
<path d="M131.10 367.80L135.20 374.95L127.00 374.95Z" fill="none" stroke="#26a626" stroke-width="1.9"/>
<path d="M148.20 355.50L152.30 362.65L144.10 362.65Z" fill="none" stroke="#26a626" stroke-width="1.9"/>
<path d="M165.30 385.40V384.10M161.20 384.10H169.40M165.30 392.55V394.40M161.20 394.40H169.40" fill="none" stroke="#26a626" stroke-width="1.9"/>
<path d="M165.30 385.40L169.40 392.55L161.20 392.55Z" fill="none" stroke="#26a626" stroke-width="1.9"/>
<path d="M182.40 378.40L186.50 385.55L178.30 385.55Z" fill="none" stroke="#26a626" stroke-width="1.9"/>
<path d="M199.50 378.40L203.60 385.55L195.40 385.55Z" fill="none" stroke="#26a626" stroke-width="1.9"/>
<path d="M216.60 337.90V323.70M212.50 323.70H220.70M216.60 345.05V358.10M212.50 358.10H220.70" fill="none" stroke="#26a626" stroke-width="1.9"/>
<path d="M216.60 337.90L220.70 345.05L212.50 345.05Z" fill="none" stroke="#26a626" stroke-width="1.9"/>
<path d="M233.70 396.60V389.70M229.60 389.70H237.80M233.70 403.75V410.40M229.60 410.40H237.80" fill="none" stroke="#26a626" stroke-width="1.9"/>
<path d="M233.70 396.60L237.80 403.75L229.60 403.75Z" fill="none" stroke="#26a626" stroke-width="1.9"/>
<path d="M250.80 363.90V358.10M246.70 358.10H254.90M250.80 371.05V376.20M246.70 376.20H254.90" fill="none" stroke="#26a626" stroke-width="1.9"/>
<path d="M250.80 363.90L254.90 371.05L246.70 371.05Z" fill="none" stroke="#26a626" stroke-width="1.9"/>
<path d="M267.90 390.20V390.20M263.80 390.20H272.00M263.80 397.20H272.00" fill="none" stroke="#26a626" stroke-width="1.9"/>
<path d="M267.90 390.20L272.00 397.35L263.80 397.35Z" fill="none" stroke="#26a626" stroke-width="1.9"/>
<path d="M285.00 396.60V389.70M280.90 389.70H289.10M285.00 403.75V410.60M280.90 410.60H289.10" fill="none" stroke="#26a626" stroke-width="1.9"/>
<path d="M285.00 396.60L289.10 403.75L280.90 403.75Z" fill="none" stroke="#26a626" stroke-width="1.9"/>
<path d="M302.10 396.10V386.00M298.00 386.00H306.20M302.10 403.25V412.60M298.00 412.60H306.20" fill="none" stroke="#26a626" stroke-width="1.9"/>
<path d="M302.10 396.10L306.20 403.25L298.00 403.25Z" fill="none" stroke="#26a626" stroke-width="1.9"/>
<path d="M62.7 258.0H319.2V463.0H62.7Z" fill="none" stroke="#000" stroke-width="2"/>
<path d="M54.20 463.00H62.7M54.20 394.67H62.7M54.20 326.33H62.7M54.20 258.00H62.7M62.70 463.0V471.50M114.00 463.0V471.50M165.30 463.0V471.50M216.60 463.0V471.50M267.90 463.0V471.50M319.20 463.0V471.50" stroke="#000" stroke-width="2" fill="none"/>
<text x="51.20" y="467.60" text-anchor="end" class="t">0</text>
<text x="51.20" y="399.27" text-anchor="end" class="t">1</text>
<text x="51.20" y="330.93" text-anchor="end" class="t">2</text>
<text x="51.20" y="262.60" text-anchor="end" class="t">3</text>
<text x="67.70" y="275.90" class="pl">D</text>
<text x="229.40" y="293.20" class="r" fill="#806030"><tspan font-style="italic">R</tspan><tspan font-size="8.3" dy="-5.9">2</tspan><tspan dy="5.9">=0.41</tspan></text>
<text x="277.40" y="290.80" class="st" fill="#806030">***</text>
<text x="229.40" y="313.40" class="r" fill="#120e8c"><tspan font-style="italic">R</tspan><tspan font-size="8.3" dy="-5.9">2</tspan><tspan dy="5.9">=0.35</tspan></text>
<text x="277.40" y="311.00" class="st" fill="#120e8c">**</text>
<text x="229.40" y="333.60" class="r" fill="#26a626"><tspan font-style="italic">R</tspan><tspan font-size="8.3" dy="-5.9">2</tspan><tspan dy="5.9">=0.12</tspan></text>
<text x="277.40" y="331.20" class="st" fill="#26a626">***</text>
<text transform="translate(30.70,361.05) rotate(-90)" x="-27.25" y="0" textLength="54.5" lengthAdjust="spacingAndGlyphs" class="yt"><tspan>BG:NAG</tspan></text>
<path d="M407.00 347.70L542.00 453.10" stroke="#806030" stroke-width="1.9" fill="none"/>
<path d="M425.10 353.90L559.40 422.40" stroke="#120e8c" stroke-width="1.9" fill="none"/>
<path d="M461.00 343.20L628.70 441.40" stroke="#26a626" stroke-width="1.9" fill="none"/>
<path d="M407.09 294.65V282.60M402.99 282.60H411.19M407.09 302.35V314.20M402.99 314.20H411.19" fill="none" stroke="#806030" stroke-width="1.9"/>
<circle cx="407.09" cy="298.50" r="3.85" fill="none" stroke="#806030" stroke-width="1.9"/>
<path d="M415.64 340.25V328.10M411.54 328.10H419.74M415.64 347.95V362.30M411.54 362.30H419.74" fill="none" stroke="#806030" stroke-width="1.9"/>
<circle cx="415.64" cy="344.10" r="3.85" fill="none" stroke="#806030" stroke-width="1.9"/>
<path d="M424.19 304.45V294.60M420.09 294.60H428.29M424.19 312.15V322.30M420.09 322.30H428.29" fill="none" stroke="#806030" stroke-width="1.9"/>
<circle cx="424.19" cy="308.30" r="3.85" fill="none" stroke="#806030" stroke-width="1.9"/>
<path d="M432.73 378.55V372.00M428.63 372.00H436.83M432.73 386.25V393.60M428.63 393.60H436.83" fill="none" stroke="#806030" stroke-width="1.9"/>
<circle cx="432.73" cy="382.40" r="3.85" fill="none" stroke="#806030" stroke-width="1.9"/>
<circle cx="441.28" cy="428.80" r="3.85" fill="none" stroke="#806030" stroke-width="1.9"/>
<path d="M449.83 405.35V402.80M445.73 402.80H453.93M449.83 413.05V417.60M445.73 417.60H453.93" fill="none" stroke="#806030" stroke-width="1.9"/>
<circle cx="449.83" cy="409.20" r="3.85" fill="none" stroke="#806030" stroke-width="1.9"/>
<path d="M458.37 370.95V360.00M454.27 360.00H462.47M458.37 378.65V389.70M454.27 389.70H462.47" fill="none" stroke="#806030" stroke-width="1.9"/>
<circle cx="458.37" cy="374.80" r="3.85" fill="none" stroke="#806030" stroke-width="1.9"/>
<path d="M466.92 416.55V414.80M462.82 414.80H471.02M466.92 424.25V426.60M462.82 426.60H471.02" fill="none" stroke="#806030" stroke-width="1.9"/>
<circle cx="466.92" cy="420.40" r="3.85" fill="none" stroke="#806030" stroke-width="1.9"/>
<path d="M475.47 403.15V397.20M471.37 397.20H479.57M475.47 410.85V417.60M471.37 417.60H479.57" fill="none" stroke="#806030" stroke-width="1.9"/>
<circle cx="475.47" cy="407.00" r="3.85" fill="none" stroke="#806030" stroke-width="1.9"/>
<circle cx="484.01" cy="430.80" r="3.85" fill="none" stroke="#806030" stroke-width="1.9"/>
<circle cx="492.56" cy="432.70" r="3.85" fill="none" stroke="#806030" stroke-width="1.9"/>
<circle cx="501.11" cy="438.30" r="3.85" fill="none" stroke="#806030" stroke-width="1.9"/>
<circle cx="509.65" cy="441.10" r="3.85" fill="none" stroke="#806030" stroke-width="1.9"/>
<path d="M518.20 404.55V397.20M514.10 397.20H522.30M518.20 412.25V419.60M514.10 419.60H522.30" fill="none" stroke="#806030" stroke-width="1.9"/>
<circle cx="518.20" cy="408.40" r="3.85" fill="none" stroke="#806030" stroke-width="1.9"/>
<circle cx="526.75" cy="429.40" r="3.85" fill="none" stroke="#806030" stroke-width="1.9"/>
<path d="M535.29 423.25V422.40M531.19 422.40H539.39M535.29 430.95V432.70M531.19 432.70H539.39" fill="none" stroke="#806030" stroke-width="1.9"/>
<circle cx="535.29" cy="427.10" r="3.85" fill="none" stroke="#806030" stroke-width="1.9"/>
<circle cx="543.84" cy="427.10" r="3.85" fill="none" stroke="#806030" stroke-width="1.9"/>
<path d="M424.19 357.95V352.50M420.09 352.50H428.29M424.19 365.45V370.10M420.09 370.10H428.29" fill="none" stroke="#120e8c" stroke-width="1.9"/>
<path d="M420.19 361.70L424.19 357.95L428.19 361.70L424.19 365.45Z" fill="none" stroke="#120e8c" stroke-width="1.9"/>
<path d="M441.28 341.15V340.50M437.18 340.50H445.38M441.28 348.65V349.70M437.18 349.70H445.38" fill="none" stroke="#120e8c" stroke-width="1.9"/>
<path d="M437.28 344.90L441.28 341.15L445.28 344.90L441.28 348.65Z" fill="none" stroke="#120e8c" stroke-width="1.9"/>
<path d="M458.37 385.95V380.40M454.27 380.40H462.47M458.37 393.45V400.00M454.27 400.00H462.47" fill="none" stroke="#120e8c" stroke-width="1.9"/>
<path d="M454.37 389.70L458.37 385.95L462.37 389.70L458.37 393.45Z" fill="none" stroke="#120e8c" stroke-width="1.9"/>
<path d="M471.47 383.80L475.47 380.05L479.47 383.80L475.47 387.55Z" fill="none" stroke="#120e8c" stroke-width="1.9"/>
<path d="M492.56 364.65V362.30M488.46 362.30H496.66M492.56 372.15V374.80M488.46 374.80H496.66" fill="none" stroke="#120e8c" stroke-width="1.9"/>
<path d="M488.56 368.40L492.56 364.65L496.56 368.40L492.56 372.15Z" fill="none" stroke="#120e8c" stroke-width="1.9"/>
<path d="M509.65 382.85V380.40M505.55 380.40H513.75M509.65 390.35V393.00M505.55 393.00H513.75" fill="none" stroke="#120e8c" stroke-width="1.9"/>
<path d="M505.65 386.60L509.65 382.85L513.65 386.60L509.65 390.35Z" fill="none" stroke="#120e8c" stroke-width="1.9"/>
<path d="M522.75 412.00L526.75 408.25L530.75 412.00L526.75 415.75Z" fill="none" stroke="#120e8c" stroke-width="1.9"/>
<path d="M539.84 414.00L543.84 410.25L547.84 414.00L543.84 417.75Z" fill="none" stroke="#120e8c" stroke-width="1.9"/>
<path d="M556.93 424.30L560.93 420.55L564.93 424.30L560.93 428.05Z" fill="none" stroke="#120e8c" stroke-width="1.9"/>
<path d="M458.37 314.70V307.70M454.27 307.70H462.47M458.37 321.85V325.90M454.27 325.90H462.47" fill="none" stroke="#26a626" stroke-width="1.9"/>
<path d="M458.37 314.70L462.47 321.85L454.27 321.85Z" fill="none" stroke="#26a626" stroke-width="1.9"/>
<path d="M475.47 300.70V286.80M471.37 286.80H479.57M475.47 307.85V319.80M471.37 319.80H479.57" fill="none" stroke="#26a626" stroke-width="1.9"/>
<path d="M475.47 300.70L479.57 307.85L471.37 307.85Z" fill="none" stroke="#26a626" stroke-width="1.9"/>
<path d="M492.56 409.80L496.66 416.95L488.46 416.95Z" fill="none" stroke="#26a626" stroke-width="1.9"/>
<path d="M509.65 389.60V381.80M505.55 381.80H513.75M509.65 396.75V398.60M505.55 398.60H513.75" fill="none" stroke="#26a626" stroke-width="1.9"/>
<path d="M509.65 389.60L513.75 396.75L505.55 396.75Z" fill="none" stroke="#26a626" stroke-width="1.9"/>
<path d="M526.75 398.00L530.85 405.15L522.65 405.15Z" fill="none" stroke="#26a626" stroke-width="1.9"/>
<path d="M543.84 377.90V370.10M539.74 370.10H547.94M543.84 385.05V391.60M539.74 391.60H547.94" fill="none" stroke="#26a626" stroke-width="1.9"/>
<path d="M543.84 377.90L547.94 385.05L539.74 385.05Z" fill="none" stroke="#26a626" stroke-width="1.9"/>
<path d="M560.93 411.40L565.03 418.55L556.83 418.55Z" fill="none" stroke="#26a626" stroke-width="1.9"/>
<path d="M578.03 415.60L582.13 422.75L573.93 422.75Z" fill="none" stroke="#26a626" stroke-width="1.9"/>
<path d="M595.12 426.50L599.22 433.65L591.02 433.65Z" fill="none" stroke="#26a626" stroke-width="1.9"/>
<path d="M612.21 412.60V409.80M608.11 409.80H616.31M612.21 419.75V422.40M608.11 422.40H616.31" fill="none" stroke="#26a626" stroke-width="1.9"/>
<path d="M612.21 412.60L616.31 419.75L608.11 419.75Z" fill="none" stroke="#26a626" stroke-width="1.9"/>
<path d="M629.31 421.80L633.41 428.95L625.21 428.95Z" fill="none" stroke="#26a626" stroke-width="1.9"/>
<path d="M390.0 258.3H646.4V462.9H390.0Z" fill="none" stroke="#000" stroke-width="2"/>
<path d="M381.50 462.90H390.0M381.50 421.98H390.0M381.50 381.06H390.0M381.50 340.14H390.0M381.50 299.22H390.0M381.50 258.30H390.0M390.00 462.9V471.40M441.28 462.9V471.40M492.56 462.9V471.40M543.84 462.9V471.40M595.12 462.9V471.40M646.40 462.9V471.40" stroke="#000" stroke-width="2" fill="none"/>
<text x="378.50" y="467.50" text-anchor="end" class="t">0.00</text>
<text x="378.50" y="426.58" text-anchor="end" class="t">0.02</text>
<text x="378.50" y="385.66" text-anchor="end" class="t">0.04</text>
<text x="378.50" y="344.74" text-anchor="end" class="t">0.06</text>
<text x="378.50" y="303.82" text-anchor="end" class="t">0.08</text>
<text x="378.50" y="262.90" text-anchor="end" class="t">0.10</text>
<text x="395.00" y="276.20" class="pl">E</text>
<text x="563.00" y="293.20" class="r" fill="#806030"><tspan font-style="italic">R</tspan><tspan font-size="8.3" dy="-5.9">2</tspan><tspan dy="5.9">=0.48</tspan></text>
<text x="611.00" y="290.80" class="st" fill="#806030">***</text>
<text x="563.00" y="313.40" class="r" fill="#120e8c"><tspan font-style="italic">R</tspan><tspan font-size="8.3" dy="-5.9">2</tspan><tspan dy="5.9">=0.62</tspan></text>
<text x="611.00" y="311.00" class="st" fill="#120e8c">***</text>
<text x="563.00" y="333.60" class="r" fill="#26a626"><tspan font-style="italic">R</tspan><tspan font-size="8.3" dy="-5.9">2</tspan><tspan dy="5.9">=0.53</tspan></text>
<text x="611.00" y="331.20" class="st" fill="#26a626">***</text>
<text transform="translate(346.00,360.55) rotate(-90)" x="-21.15" y="0" textLength="42.3" lengthAdjust="spacingAndGlyphs" class="yt"><tspan>BG:AP</tspan></text>
<path d="M737.80 365.00L874.60 405.60" stroke="#806030" stroke-width="1.9" fill="none"/>
<path d="M755.10 328.10L891.30 444.80" stroke="#120e8c" stroke-width="1.9" fill="none"/>
<path d="M790.10 356.10L959.80 424.60" stroke="#26a626" stroke-width="1.9" fill="none"/>
<path d="M737.73 364.55V362.30M733.63 362.30H741.83M737.73 372.25V376.20M733.63 376.20H741.83" fill="none" stroke="#806030" stroke-width="1.9"/>
<circle cx="737.73" cy="368.40" r="3.85" fill="none" stroke="#806030" stroke-width="1.9"/>
<path d="M746.25 392.85V387.40M742.15 387.40H750.35M746.25 400.55V405.60M742.15 405.60H750.35" fill="none" stroke="#806030" stroke-width="1.9"/>
<circle cx="746.25" cy="396.70" r="3.85" fill="none" stroke="#806030" stroke-width="1.9"/>
<path d="M754.77 317.35V303.50M750.67 303.50H758.87M754.77 325.05V337.10M750.67 337.10H758.87" fill="none" stroke="#806030" stroke-width="1.9"/>
<circle cx="754.77" cy="321.20" r="3.85" fill="none" stroke="#806030" stroke-width="1.9"/>
<path d="M763.28 375.15V371.20M759.18 371.20H767.38M763.28 382.85V387.40M759.18 387.40H767.38" fill="none" stroke="#806030" stroke-width="1.9"/>
<circle cx="763.28" cy="379.00" r="3.85" fill="none" stroke="#806030" stroke-width="1.9"/>
<path d="M771.80 379.35V377.60M767.70 377.60H775.90M771.80 387.05V389.70M767.70 389.70H775.90" fill="none" stroke="#806030" stroke-width="1.9"/>
<circle cx="771.80" cy="383.20" r="3.85" fill="none" stroke="#806030" stroke-width="1.9"/>
<path d="M780.32 393.35V385.20M776.22 385.20H784.42M780.32 401.05V409.20M776.22 409.20H784.42" fill="none" stroke="#806030" stroke-width="1.9"/>
<circle cx="780.32" cy="397.20" r="3.85" fill="none" stroke="#806030" stroke-width="1.9"/>
<circle cx="788.83" cy="341.30" r="3.85" fill="none" stroke="#806030" stroke-width="1.9"/>
<path d="M797.35 373.75V367.30M793.25 367.30H801.45M797.35 381.45V388.80M793.25 388.80H801.45" fill="none" stroke="#806030" stroke-width="1.9"/>
<circle cx="797.35" cy="377.60" r="3.85" fill="none" stroke="#806030" stroke-width="1.9"/>
<path d="M805.87 378.55V365.60M801.77 365.60H809.97M805.87 386.25V398.60M801.77 398.60H809.97" fill="none" stroke="#806030" stroke-width="1.9"/>
<circle cx="805.87" cy="382.40" r="3.85" fill="none" stroke="#806030" stroke-width="1.9"/>
<path d="M814.38 394.25V393.00M810.28 393.00H818.48M814.38 401.95V403.60M810.28 403.60H818.48" fill="none" stroke="#806030" stroke-width="1.9"/>
<circle cx="814.38" cy="398.10" r="3.85" fill="none" stroke="#806030" stroke-width="1.9"/>
<circle cx="822.90" cy="409.80" r="3.85" fill="none" stroke="#806030" stroke-width="1.9"/>
<path d="M831.42 413.55V412.60M827.32 412.60H835.52M831.42 421.25V423.20M827.32 423.20H835.52" fill="none" stroke="#806030" stroke-width="1.9"/>
<circle cx="831.42" cy="417.40" r="3.85" fill="none" stroke="#806030" stroke-width="1.9"/>
<circle cx="839.93" cy="418.20" r="3.85" fill="none" stroke="#806030" stroke-width="1.9"/>
<path d="M848.45 377.95V367.30M844.35 367.30H852.55M848.45 385.65V395.80M844.35 395.80H852.55" fill="none" stroke="#806030" stroke-width="1.9"/>
<circle cx="848.45" cy="381.80" r="3.85" fill="none" stroke="#806030" stroke-width="1.9"/>
<path d="M856.97 391.95V383.20M852.87 383.20H861.07M856.97 399.65V408.40M852.87 408.40H861.07" fill="none" stroke="#806030" stroke-width="1.9"/>
<circle cx="856.97" cy="395.80" r="3.85" fill="none" stroke="#806030" stroke-width="1.9"/>
<path d="M865.48 391.95V390.20M861.38 390.20H869.58M865.48 399.65V401.40M861.38 401.40H869.58" fill="none" stroke="#806030" stroke-width="1.9"/>
<circle cx="865.48" cy="395.80" r="3.85" fill="none" stroke="#806030" stroke-width="1.9"/>
<circle cx="874.00" cy="407.00" r="3.85" fill="none" stroke="#806030" stroke-width="1.9"/>
<path d="M754.77 317.45V297.40M750.67 297.40H758.87M754.77 324.95V345.50M750.67 345.50H758.87" fill="none" stroke="#120e8c" stroke-width="1.9"/>
<path d="M750.77 321.20L754.77 317.45L758.77 321.20L754.77 324.95Z" fill="none" stroke="#120e8c" stroke-width="1.9"/>
<path d="M771.80 303.95V291.80M767.70 291.80H775.90M771.80 311.45V324.50M767.70 324.50H775.90" fill="none" stroke="#120e8c" stroke-width="1.9"/>
<path d="M767.80 307.70L771.80 303.95L775.80 307.70L771.80 311.45Z" fill="none" stroke="#120e8c" stroke-width="1.9"/>
<path d="M788.83 359.95V346.90M784.73 346.90H792.93M788.83 367.45V381.80M784.73 381.80H792.93" fill="none" stroke="#120e8c" stroke-width="1.9"/>
<path d="M784.83 363.70L788.83 359.95L792.83 363.70L788.83 367.45Z" fill="none" stroke="#120e8c" stroke-width="1.9"/>
<path d="M805.87 402.65V400.00M801.77 400.00H809.97M805.87 410.15V413.20M801.77 413.20H809.97" fill="none" stroke="#120e8c" stroke-width="1.9"/>
<path d="M801.87 406.40L805.87 402.65L809.87 406.40L805.87 410.15Z" fill="none" stroke="#120e8c" stroke-width="1.9"/>
<path d="M822.90 386.45V383.20M818.80 383.20H827.00M822.90 393.95V397.20M818.80 397.20H827.00" fill="none" stroke="#120e8c" stroke-width="1.9"/>
<path d="M818.90 390.20L822.90 386.45L826.90 390.20L822.90 393.95Z" fill="none" stroke="#120e8c" stroke-width="1.9"/>
<path d="M835.93 420.20L839.93 416.45L843.93 420.20L839.93 423.95Z" fill="none" stroke="#120e8c" stroke-width="1.9"/>
<path d="M852.97 423.00L856.97 419.25L860.97 423.00L856.97 426.75Z" fill="none" stroke="#120e8c" stroke-width="1.9"/>
<path d="M870.00 414.60L874.00 410.85L878.00 414.60L874.00 418.35Z" fill="none" stroke="#120e8c" stroke-width="1.9"/>
<path d="M887.03 429.90L891.03 426.15L895.03 429.90L891.03 433.65Z" fill="none" stroke="#120e8c" stroke-width="1.9"/>
<path d="M788.83 321.10V313.30M784.73 313.30H792.93M788.83 328.25V335.70M784.73 335.70H792.93" fill="none" stroke="#26a626" stroke-width="1.9"/>
<path d="M788.83 321.10L792.93 328.25L784.73 328.25Z" fill="none" stroke="#26a626" stroke-width="1.9"/>
<path d="M805.87 331.50V324.50M801.77 324.50H809.97M805.87 338.65V344.90M801.77 344.90H809.97" fill="none" stroke="#26a626" stroke-width="1.9"/>
<path d="M805.87 331.50L809.97 338.65L801.77 338.65Z" fill="none" stroke="#26a626" stroke-width="1.9"/>
<path d="M822.90 402.20V399.20M818.80 399.20H827.00M822.90 409.35V411.20M818.80 411.20H827.00" fill="none" stroke="#26a626" stroke-width="1.9"/>
<path d="M822.90 402.20L827.00 409.35L818.80 409.35Z" fill="none" stroke="#26a626" stroke-width="1.9"/>
<path d="M839.93 385.40V381.80M835.83 381.80H844.03M839.93 392.55V395.80M835.83 395.80H844.03" fill="none" stroke="#26a626" stroke-width="1.9"/>
<path d="M839.93 385.40L844.03 392.55L835.83 392.55Z" fill="none" stroke="#26a626" stroke-width="1.9"/>
<path d="M856.97 395.20V393.00M852.87 393.00H861.07M856.97 402.35V404.20M852.87 404.20H861.07" fill="none" stroke="#26a626" stroke-width="1.9"/>
<path d="M856.97 395.20L861.07 402.35L852.87 402.35Z" fill="none" stroke="#26a626" stroke-width="1.9"/>
<path d="M874.00 402.20V400.00M869.90 400.00H878.10M874.00 409.35V411.20M869.90 411.20H878.10" fill="none" stroke="#26a626" stroke-width="1.9"/>
<path d="M874.00 402.20L878.10 409.35L869.90 409.35Z" fill="none" stroke="#26a626" stroke-width="1.9"/>
<path d="M891.03 387.40V379.60M886.93 379.60H895.13M891.03 394.55V401.40M886.93 401.40H895.13" fill="none" stroke="#26a626" stroke-width="1.9"/>
<path d="M891.03 387.40L895.13 394.55L886.93 394.55Z" fill="none" stroke="#26a626" stroke-width="1.9"/>
<path d="M908.07 420.40L912.17 427.55L903.97 427.55Z" fill="none" stroke="#26a626" stroke-width="1.9"/>
<path d="M925.10 419.00L929.20 426.15L921.00 426.15Z" fill="none" stroke="#26a626" stroke-width="1.9"/>
<path d="M942.13 392.40V385.20M938.03 385.20H946.23M942.13 399.55V404.20M938.03 404.20H946.23" fill="none" stroke="#26a626" stroke-width="1.9"/>
<path d="M942.13 392.40L946.23 399.55L938.03 399.55Z" fill="none" stroke="#26a626" stroke-width="1.9"/>
<path d="M959.17 403.60V400.00M955.07 400.00H963.27M959.17 410.75V414.00M955.07 414.00H963.27" fill="none" stroke="#26a626" stroke-width="1.9"/>
<path d="M959.17 403.60L963.27 410.75L955.07 410.75Z" fill="none" stroke="#26a626" stroke-width="1.9"/>
<path d="M720.7 258.1H976.2V463.0H720.7Z" fill="none" stroke="#000" stroke-width="2"/>
<path d="M712.20 463.00H720.7M712.20 411.77H720.7M712.20 360.55H720.7M712.20 309.33H720.7M712.20 258.10H720.7M720.70 463.0V471.50M771.80 463.0V471.50M822.90 463.0V471.50M874.00 463.0V471.50M925.10 463.0V471.50M976.20 463.0V471.50" stroke="#000" stroke-width="2" fill="none"/>
<text x="709.20" y="467.60" text-anchor="end" class="t">0.00</text>
<text x="709.20" y="416.38" text-anchor="end" class="t">0.02</text>
<text x="709.20" y="365.15" text-anchor="end" class="t">0.04</text>
<text x="709.20" y="313.93" text-anchor="end" class="t">0.06</text>
<text x="709.20" y="262.70" text-anchor="end" class="t">0.08</text>
<text x="720.70" y="488.00" text-anchor="middle" class="t">0</text>
<text x="771.80" y="488.00" text-anchor="middle" class="t">300</text>
<text x="822.90" y="488.00" text-anchor="middle" class="t">600</text>
<text x="874.00" y="488.00" text-anchor="middle" class="t">900</text>
<text x="925.10" y="488.00" text-anchor="middle" class="t">1200</text>
<text x="976.20" y="488.00" text-anchor="middle" class="t">1500</text>
<text x="783.45" y="500.00" textLength="130" lengthAdjust="spacingAndGlyphs" class="yt">Elevation (m a.s.l.)</text>
<text x="725.70" y="276.00" class="pl">F</text>
<text x="892.40" y="294.40" class="r" fill="#806030"><tspan font-style="italic">R</tspan><tspan font-size="8.3" dy="-5.9">2</tspan><tspan dy="5.9">=0.17</tspan></text>
<text x="940.40" y="292.00" class="st" fill="#806030">***</text>
<text x="892.40" y="314.60" class="r" fill="#120e8c"><tspan font-style="italic">R</tspan><tspan font-size="8.3" dy="-5.9">2</tspan><tspan dy="5.9">=0.60</tspan></text>
<text x="940.40" y="312.20" class="st" fill="#120e8c">***</text>
<text x="892.40" y="334.80" class="r" fill="#26a626"><tspan font-style="italic">R</tspan><tspan font-size="8.3" dy="-5.9">2</tspan><tspan dy="5.9">=0.41</tspan></text>
<text x="940.40" y="332.40" class="st" fill="#26a626">***</text>
<text transform="translate(677.30,361.05) rotate(-90)" x="-25.25" y="0" textLength="50.5" lengthAdjust="spacingAndGlyphs" class="yt"><tspan>NAG:AP</tspan></text>
<path d="M80.00 568.90L214.80 647.80" stroke="#806030" stroke-width="1.9" fill="none"/>
<path d="M96.80 591.80L232.40 551.80" stroke="#120e8c" stroke-width="1.9" fill="none"/>
<path d="M133.10 567.00L301.70 603.30" stroke="#26a626" stroke-width="1.9" fill="none"/>
<path d="M79.80 529.55V528.40M75.70 528.40H83.90M79.80 537.25V539.00M75.70 539.00H83.90" fill="none" stroke="#806030" stroke-width="1.9"/>
<circle cx="79.80" cy="533.40" r="3.85" fill="none" stroke="#806030" stroke-width="1.9"/>
<path d="M88.35 529.55V523.30M84.25 523.30H92.45M88.35 537.25V543.70M84.25 543.70H92.45" fill="none" stroke="#806030" stroke-width="1.9"/>
<circle cx="88.35" cy="533.40" r="3.85" fill="none" stroke="#806030" stroke-width="1.9"/>
<path d="M96.90 565.05V562.50M92.80 562.50H101.00M96.90 572.75V575.30M92.80 575.30H101.00" fill="none" stroke="#806030" stroke-width="1.9"/>
<circle cx="96.90" cy="568.90" r="3.85" fill="none" stroke="#806030" stroke-width="1.9"/>
<path d="M105.45 579.85V574.50M101.35 574.50H109.55M105.45 587.55V592.10M101.35 592.10H109.55" fill="none" stroke="#806030" stroke-width="1.9"/>
<circle cx="105.45" cy="583.70" r="3.85" fill="none" stroke="#806030" stroke-width="1.9"/>
<path d="M114.00 644.15V640.20M109.90 640.20H118.10M114.00 651.85V654.80M109.90 654.80H118.10" fill="none" stroke="#806030" stroke-width="1.9"/>
<circle cx="114.00" cy="648.00" r="3.85" fill="none" stroke="#806030" stroke-width="1.9"/>
<path d="M122.55 590.25V588.50M118.45 588.50H126.65M122.55 597.95V598.80M118.45 598.80H126.65" fill="none" stroke="#806030" stroke-width="1.9"/>
<circle cx="122.55" cy="594.10" r="3.85" fill="none" stroke="#806030" stroke-width="1.9"/>
<path d="M131.10 605.05V599.70M127.00 599.70H135.20M131.10 612.75V620.10M127.00 620.10H135.20" fill="none" stroke="#806030" stroke-width="1.9"/>
<circle cx="131.10" cy="608.90" r="3.85" fill="none" stroke="#806030" stroke-width="1.9"/>
<path d="M139.65 633.55V631.30M135.55 631.30H143.75M139.65 641.25V644.40M135.55 644.40H143.75" fill="none" stroke="#806030" stroke-width="1.9"/>
<circle cx="139.65" cy="637.40" r="3.85" fill="none" stroke="#806030" stroke-width="1.9"/>
<path d="M148.20 603.35V601.10M144.10 601.10H152.30M148.20 611.05V614.50M144.10 614.50H152.30" fill="none" stroke="#806030" stroke-width="1.9"/>
<circle cx="148.20" cy="607.20" r="3.85" fill="none" stroke="#806030" stroke-width="1.9"/>
<path d="M156.75 632.15V627.60M152.65 627.60H160.85M156.75 639.85V644.40M152.65 644.40H160.85" fill="none" stroke="#806030" stroke-width="1.9"/>
<circle cx="156.75" cy="636.00" r="3.85" fill="none" stroke="#806030" stroke-width="1.9"/>
<circle cx="165.30" cy="627.60" r="3.85" fill="none" stroke="#806030" stroke-width="1.9"/>
<path d="M173.85 624.65V617.30M169.75 617.30H177.95M173.85 632.35V640.20M169.75 640.20H177.95" fill="none" stroke="#806030" stroke-width="1.9"/>
<circle cx="173.85" cy="628.50" r="3.85" fill="none" stroke="#806030" stroke-width="1.9"/>
<path d="M182.40 634.95V629.00M178.30 629.00H186.50M182.40 642.65V651.40M178.30 651.40H186.50" fill="none" stroke="#806030" stroke-width="1.9"/>
<circle cx="182.40" cy="638.80" r="3.85" fill="none" stroke="#806030" stroke-width="1.9"/>
<path d="M190.95 608.95V601.60M186.85 601.60H195.05M190.95 616.65V624.80M186.85 624.80H195.05" fill="none" stroke="#806030" stroke-width="1.9"/>
<circle cx="190.95" cy="612.80" r="3.85" fill="none" stroke="#806030" stroke-width="1.9"/>
<path d="M199.50 630.75V628.50M195.40 628.50H203.60M199.50 638.45V641.60M195.40 641.60H203.60" fill="none" stroke="#806030" stroke-width="1.9"/>
<circle cx="199.50" cy="634.60" r="3.85" fill="none" stroke="#806030" stroke-width="1.9"/>
<path d="M208.05 630.75V626.20M203.95 626.20H212.15M208.05 638.45V643.00M203.95 643.00H212.15" fill="none" stroke="#806030" stroke-width="1.9"/>
<circle cx="208.05" cy="634.60" r="3.85" fill="none" stroke="#806030" stroke-width="1.9"/>
<path d="M216.60 613.45V611.70M212.50 611.70H220.70M216.60 621.15V622.00M212.50 622.00H220.70" fill="none" stroke="#806030" stroke-width="1.9"/>
<circle cx="216.60" cy="617.30" r="3.85" fill="none" stroke="#806030" stroke-width="1.9"/>
<path d="M96.90 598.75V590.40M92.80 590.40H101.00M96.90 606.25V615.00M92.80 615.00H101.00" fill="none" stroke="#120e8c" stroke-width="1.9"/>
<path d="M92.90 602.50L96.90 598.75L100.90 602.50L96.90 606.25Z" fill="none" stroke="#120e8c" stroke-width="1.9"/>
<path d="M114.00 594.55V588.50M109.90 588.50H118.10M114.00 602.05V610.80M109.90 610.80H118.10" fill="none" stroke="#120e8c" stroke-width="1.9"/>
<path d="M110.00 598.30L114.00 594.55L118.00 598.30L114.00 602.05Z" fill="none" stroke="#120e8c" stroke-width="1.9"/>
<path d="M131.10 596.75V584.30M127.00 584.30H135.20M131.10 604.25V616.40M127.00 616.40H135.20" fill="none" stroke="#120e8c" stroke-width="1.9"/>
<path d="M127.10 600.50L131.10 596.75L135.10 600.50L131.10 604.25Z" fill="none" stroke="#120e8c" stroke-width="1.9"/>
<path d="M148.20 545.05V539.00M144.10 539.00H152.30M148.20 552.55V559.10M144.10 559.10H152.30" fill="none" stroke="#120e8c" stroke-width="1.9"/>
<path d="M144.20 548.80L148.20 545.05L152.20 548.80L148.20 552.55Z" fill="none" stroke="#120e8c" stroke-width="1.9"/>
<path d="M165.30 551.75V547.90M161.20 547.90H169.40M165.30 559.25V564.10M161.20 564.10H169.40" fill="none" stroke="#120e8c" stroke-width="1.9"/>
<path d="M161.30 555.50L165.30 551.75L169.30 555.50L165.30 559.25Z" fill="none" stroke="#120e8c" stroke-width="1.9"/>
<path d="M182.40 529.65V526.10M178.30 526.10H186.50M182.40 537.15V540.10M178.30 540.10H186.50" fill="none" stroke="#120e8c" stroke-width="1.9"/>
<path d="M178.40 533.40L182.40 529.65L186.40 533.40L182.40 537.15Z" fill="none" stroke="#120e8c" stroke-width="1.9"/>
<path d="M199.50 555.35V552.10M195.40 552.10H203.60M199.50 562.85V567.00M195.40 567.00H203.60" fill="none" stroke="#120e8c" stroke-width="1.9"/>
<path d="M195.50 559.10L199.50 555.35L203.50 559.10L199.50 562.85Z" fill="none" stroke="#120e8c" stroke-width="1.9"/>
<path d="M212.60 577.30L216.60 573.55L220.60 577.30L216.60 581.05Z" fill="none" stroke="#120e8c" stroke-width="1.9"/>
<path d="M233.70 562.35V556.90M229.60 556.90H237.80M233.70 569.85V575.90M229.60 575.90H237.80" fill="none" stroke="#120e8c" stroke-width="1.9"/>
<path d="M229.70 566.10L233.70 562.35L237.70 566.10L233.70 569.85Z" fill="none" stroke="#120e8c" stroke-width="1.9"/>
<path d="M131.10 569.70L135.20 576.85L127.00 576.85Z" fill="none" stroke="#26a626" stroke-width="1.9"/>
<path d="M148.20 557.10L152.30 564.25L144.10 564.25Z" fill="none" stroke="#26a626" stroke-width="1.9"/>
<path d="M165.30 587.90V587.10M161.20 587.10H169.40M165.30 595.05V596.00M161.20 596.00H169.40" fill="none" stroke="#26a626" stroke-width="1.9"/>
<path d="M165.30 587.90L169.40 595.05L161.20 595.05Z" fill="none" stroke="#26a626" stroke-width="1.9"/>
<path d="M182.40 578.60L186.50 585.75L178.30 585.75Z" fill="none" stroke="#26a626" stroke-width="1.9"/>
<path d="M199.50 580.30V579.20M195.40 579.20H203.60M199.50 587.45V588.50M195.40 588.50H203.60" fill="none" stroke="#26a626" stroke-width="1.9"/>
<path d="M199.50 580.30L203.60 587.45L195.40 587.45Z" fill="none" stroke="#26a626" stroke-width="1.9"/>
<path d="M216.60 549.60V542.30M212.50 542.30H220.70M216.60 556.75V563.30M212.50 563.30H220.70" fill="none" stroke="#26a626" stroke-width="1.9"/>
<path d="M216.60 549.60L220.70 556.75L212.50 556.75Z" fill="none" stroke="#26a626" stroke-width="1.9"/>
<path d="M233.70 604.70V596.00M229.60 596.00H237.80M233.70 611.85V621.20M229.60 621.20H237.80" fill="none" stroke="#26a626" stroke-width="1.9"/>
<path d="M233.70 604.70L237.80 611.85L229.60 611.85Z" fill="none" stroke="#26a626" stroke-width="1.9"/>
<path d="M250.80 568.30V563.30M246.70 563.30H254.90M250.80 575.45V580.10M246.70 580.10H254.90" fill="none" stroke="#26a626" stroke-width="1.9"/>
<path d="M250.80 568.30L254.90 575.45L246.70 575.45Z" fill="none" stroke="#26a626" stroke-width="1.9"/>
<path d="M267.90 593.50V591.30M263.80 591.30H272.00M267.90 600.65V602.50M263.80 602.50H272.00" fill="none" stroke="#26a626" stroke-width="1.9"/>
<path d="M267.90 593.50L272.00 600.65L263.80 600.65Z" fill="none" stroke="#26a626" stroke-width="1.9"/>
<path d="M285.00 606.00V595.50M280.90 595.50H289.10M285.00 613.15V624.00M280.90 624.00H289.10" fill="none" stroke="#26a626" stroke-width="1.9"/>
<path d="M285.00 606.00L289.10 613.15L280.90 613.15Z" fill="none" stroke="#26a626" stroke-width="1.9"/>
<path d="M302.10 607.40V594.90M298.00 594.90H306.20M302.10 614.55V626.80M298.00 626.80H306.20" fill="none" stroke="#26a626" stroke-width="1.9"/>
<path d="M302.10 607.40L306.20 614.55L298.00 614.55Z" fill="none" stroke="#26a626" stroke-width="1.9"/>
<path d="M62.7 494.8H319.2V700.1H62.7Z" fill="none" stroke="#000" stroke-width="2"/>
<path d="M54.20 700.10H62.7M54.20 631.67H62.7M54.20 563.23H62.7M54.20 494.80H62.7M62.70 700.1V708.60M114.00 700.1V708.60M165.30 700.1V708.60M216.60 700.1V708.60M267.90 700.1V708.60M319.20 700.1V708.60" stroke="#000" stroke-width="2" fill="none"/>
<text x="51.20" y="704.70" text-anchor="end" class="t">0.2</text>
<text x="51.20" y="636.27" text-anchor="end" class="t">0.4</text>
<text x="51.20" y="567.83" text-anchor="end" class="t">0.6</text>
<text x="51.20" y="499.40" text-anchor="end" class="t">0.8</text>
<text x="62.70" y="725.10" text-anchor="middle" class="t">0</text>
<text x="114.00" y="725.10" text-anchor="middle" class="t">300</text>
<text x="165.30" y="725.10" text-anchor="middle" class="t">600</text>
<text x="216.60" y="725.10" text-anchor="middle" class="t">900</text>
<text x="267.90" y="725.10" text-anchor="middle" class="t">1200</text>
<text x="319.20" y="725.10" text-anchor="middle" class="t">1500</text>
<text x="125.95" y="737.10" textLength="130" lengthAdjust="spacingAndGlyphs" class="yt">Elevation (m a.s.l.)</text>
<text x="67.70" y="512.70" class="pl">G</text>
<text x="236.20" y="646.40" class="r" fill="#806030"><tspan font-style="italic">R</tspan><tspan font-size="8.3" dy="-5.9">2</tspan><tspan dy="5.9">=0.40</tspan></text>
<text x="284.20" y="644.00" class="st" fill="#806030">***</text>
<text x="236.20" y="666.60" class="r" fill="#120e8c"><tspan font-style="italic">R</tspan><tspan font-size="8.3" dy="-5.9">2</tspan><tspan dy="5.9">=0.18</tspan></text>
<text x="284.20" y="664.20" class="st" fill="#120e8c">**</text>
<text x="236.20" y="686.80" class="r" fill="#26a626"><tspan font-style="italic">R</tspan><tspan font-size="8.3" dy="-5.9">2</tspan><tspan dy="5.9">=0.19</tspan></text>
<text x="284.20" y="684.40" class="st" fill="#26a626">***</text>
<text transform="translate(21.60,598.70) rotate(-90)" x="-47.50" y="0" textLength="95.0" lengthAdjust="spacingAndGlyphs" class="yt"><tspan>Vector length</tspan></text>
<path d="M408.80 599.10L542.20 527.50" stroke="#806030" stroke-width="1.9" fill="none"/>
<path d="M424.80 611.30L561.50 530.00" stroke="#120e8c" stroke-width="1.9" fill="none"/>
<path d="M462.00 605.30L629.70 526.10" stroke="#26a626" stroke-width="1.9" fill="none"/>
<path d="M407.89 617.35V612.80M403.79 612.80H411.99M407.89 625.05V629.60M403.79 629.60H411.99" fill="none" stroke="#806030" stroke-width="1.9"/>
<circle cx="407.89" cy="621.20" r="3.85" fill="none" stroke="#806030" stroke-width="1.9"/>
<path d="M416.43 582.65V575.30M412.33 575.30H420.53M416.43 590.35V598.30M412.33 598.30H420.53" fill="none" stroke="#806030" stroke-width="1.9"/>
<circle cx="416.43" cy="586.50" r="3.85" fill="none" stroke="#806030" stroke-width="1.9"/>
<path d="M424.97 633.05V625.70M420.87 625.70H429.07M424.97 640.75V649.20M420.87 649.20H429.07" fill="none" stroke="#806030" stroke-width="1.9"/>
<circle cx="424.97" cy="636.90" r="3.85" fill="none" stroke="#806030" stroke-width="1.9"/>
<path d="M433.52 571.45V568.10M429.42 568.10H437.62M433.52 579.15V584.30M429.42 584.30H437.62" fill="none" stroke="#806030" stroke-width="1.9"/>
<circle cx="433.52" cy="575.30" r="3.85" fill="none" stroke="#806030" stroke-width="1.9"/>
<circle cx="442.06" cy="550.20" r="3.85" fill="none" stroke="#806030" stroke-width="1.9"/>
<path d="M450.60 549.65V544.60M446.50 544.60H454.70M450.60 557.35V562.50M446.50 562.50H454.70" fill="none" stroke="#806030" stroke-width="1.9"/>
<circle cx="450.60" cy="553.50" r="3.85" fill="none" stroke="#806030" stroke-width="1.9"/>
<path d="M459.15 592.15V588.50M455.05 588.50H463.25M459.15 599.85V608.90M455.05 608.90H463.25" fill="none" stroke="#806030" stroke-width="1.9"/>
<circle cx="459.15" cy="596.00" r="3.85" fill="none" stroke="#806030" stroke-width="1.9"/>
<path d="M467.69 553.05V549.30M463.59 549.30H471.79M467.69 560.75V565.30M463.59 565.30H471.79" fill="none" stroke="#806030" stroke-width="1.9"/>
<circle cx="467.69" cy="556.90" r="3.85" fill="none" stroke="#806030" stroke-width="1.9"/>
<path d="M476.23 559.15V549.30M472.13 549.30H480.33M476.23 566.85V574.50M472.13 574.50H480.33" fill="none" stroke="#806030" stroke-width="1.9"/>
<circle cx="476.23" cy="563.00" r="3.85" fill="none" stroke="#806030" stroke-width="1.9"/>
<circle cx="484.78" cy="542.30" r="3.85" fill="none" stroke="#806030" stroke-width="1.9"/>
<circle cx="493.32" cy="536.20" r="3.85" fill="none" stroke="#806030" stroke-width="1.9"/>
<circle cx="501.86" cy="529.80" r="3.85" fill="none" stroke="#806030" stroke-width="1.9"/>
<circle cx="510.41" cy="527.80" r="3.85" fill="none" stroke="#806030" stroke-width="1.9"/>
<path d="M518.95 558.05V551.30M514.85 551.30H523.05M518.95 565.75V573.70M514.85 573.70H523.05" fill="none" stroke="#806030" stroke-width="1.9"/>
<circle cx="518.95" cy="561.90" r="3.85" fill="none" stroke="#806030" stroke-width="1.9"/>
<circle cx="527.49" cy="542.30" r="3.85" fill="none" stroke="#806030" stroke-width="1.9"/>
<path d="M536.04 540.75V538.10M531.94 538.10H540.14M536.04 548.45V550.70M531.94 550.70H540.14" fill="none" stroke="#806030" stroke-width="1.9"/>
<circle cx="536.04" cy="544.60" r="3.85" fill="none" stroke="#806030" stroke-width="1.9"/>
<circle cx="544.58" cy="539.50" r="3.85" fill="none" stroke="#806030" stroke-width="1.9"/>
<path d="M424.97 607.95V598.80M420.87 598.80H429.07M424.97 615.45V624.80M420.87 624.80H429.07" fill="none" stroke="#120e8c" stroke-width="1.9"/>
<path d="M420.97 611.70L424.97 607.95L428.97 611.70L424.97 615.45Z" fill="none" stroke="#120e8c" stroke-width="1.9"/>
<path d="M442.06 621.95V620.10M437.96 620.10H446.16M442.06 629.45V632.40M437.96 632.40H446.16" fill="none" stroke="#120e8c" stroke-width="1.9"/>
<path d="M438.06 625.70L442.06 621.95L446.06 625.70L442.06 629.45Z" fill="none" stroke="#120e8c" stroke-width="1.9"/>
<path d="M459.15 575.45V568.10M455.05 568.10H463.25M459.15 582.95V590.40M455.05 590.40H463.25" fill="none" stroke="#120e8c" stroke-width="1.9"/>
<path d="M455.15 579.20L459.15 575.45L463.15 579.20L459.15 582.95Z" fill="none" stroke="#120e8c" stroke-width="1.9"/>
<path d="M472.23 564.10L476.23 560.35L480.23 564.10L476.23 567.85Z" fill="none" stroke="#120e8c" stroke-width="1.9"/>
<path d="M493.32 574.35V573.10M489.22 573.10H497.42M493.32 581.85V584.30M489.22 584.30H497.42" fill="none" stroke="#120e8c" stroke-width="1.9"/>
<path d="M489.32 578.10L493.32 574.35L497.32 578.10L493.32 581.85Z" fill="none" stroke="#120e8c" stroke-width="1.9"/>
<path d="M506.41 555.80L510.41 552.05L514.41 555.80L510.41 559.55Z" fill="none" stroke="#120e8c" stroke-width="1.9"/>
<path d="M523.49 541.80L527.49 538.05L531.49 541.80L527.49 545.55Z" fill="none" stroke="#120e8c" stroke-width="1.9"/>
<path d="M540.58 543.70L544.58 539.95L548.58 543.70L544.58 547.45Z" fill="none" stroke="#120e8c" stroke-width="1.9"/>
<path d="M557.67 532.00L561.67 528.25L565.67 532.00L561.67 535.75Z" fill="none" stroke="#120e8c" stroke-width="1.9"/>
<path d="M459.15 627.90V622.90M455.05 622.90H463.25M459.15 635.05V640.20M455.05 640.20H463.25" fill="none" stroke="#26a626" stroke-width="1.9"/>
<path d="M459.15 627.90L463.25 635.05L455.05 635.05Z" fill="none" stroke="#26a626" stroke-width="1.9"/>
<path d="M476.23 630.70V622.00M472.13 622.00H480.33M476.23 637.85V645.80M472.13 645.80H480.33" fill="none" stroke="#26a626" stroke-width="1.9"/>
<path d="M476.23 630.70L480.33 637.85L472.13 637.85Z" fill="none" stroke="#26a626" stroke-width="1.9"/>
<path d="M493.32 546.50L497.42 553.65L489.22 553.65Z" fill="none" stroke="#26a626" stroke-width="1.9"/>
<path d="M510.41 564.70V561.90M506.31 561.90H514.51M510.41 571.85V574.50M506.31 574.50H514.51" fill="none" stroke="#26a626" stroke-width="1.9"/>
<path d="M510.41 564.70L514.51 571.85L506.31 571.85Z" fill="none" stroke="#26a626" stroke-width="1.9"/>
<path d="M527.49 555.20L531.59 562.35L523.39 562.35Z" fill="none" stroke="#26a626" stroke-width="1.9"/>
<path d="M544.58 563.50V561.40M540.48 561.40H548.68M544.58 570.65V571.70M540.48 571.70H548.68" fill="none" stroke="#26a626" stroke-width="1.9"/>
<path d="M544.58 563.50L548.68 570.65L540.48 570.65Z" fill="none" stroke="#26a626" stroke-width="1.9"/>
<path d="M561.67 551.50V549.30M557.57 549.30H565.77M561.67 558.65V560.50M557.57 560.50H565.77" fill="none" stroke="#26a626" stroke-width="1.9"/>
<path d="M561.67 551.50L565.77 558.65L557.57 558.65Z" fill="none" stroke="#26a626" stroke-width="1.9"/>
<path d="M578.75 534.20L582.85 541.35L574.65 541.35Z" fill="none" stroke="#26a626" stroke-width="1.9"/>
<path d="M595.84 530.00L599.94 537.15L591.74 537.15Z" fill="none" stroke="#26a626" stroke-width="1.9"/>
<path d="M612.93 548.70V545.10M608.83 545.10H617.03M612.93 555.85V558.60M608.83 558.60H617.03" fill="none" stroke="#26a626" stroke-width="1.9"/>
<path d="M612.93 548.70L617.03 555.85L608.83 555.85Z" fill="none" stroke="#26a626" stroke-width="1.9"/>
<path d="M630.01 538.90L634.11 546.05L625.91 546.05Z" fill="none" stroke="#26a626" stroke-width="1.9"/>
<path d="M390.8 495.2H647.1V699.8H390.8Z" fill="none" stroke="#000" stroke-width="2"/>
<path d="M382.30 699.80H390.8M382.30 658.88H390.8M382.30 617.96H390.8M382.30 577.04H390.8M382.30 536.12H390.8M382.30 495.20H390.8M390.80 699.8V708.30M442.06 699.8V708.30M493.32 699.8V708.30M544.58 699.8V708.30M595.84 699.8V708.30M647.10 699.8V708.30" stroke="#000" stroke-width="2" fill="none"/>
<text x="379.30" y="704.40" text-anchor="end" class="t">80</text>
<text x="379.30" y="663.48" text-anchor="end" class="t">82</text>
<text x="379.30" y="622.56" text-anchor="end" class="t">84</text>
<text x="379.30" y="581.64" text-anchor="end" class="t">86</text>
<text x="379.30" y="540.72" text-anchor="end" class="t">88</text>
<text x="379.30" y="499.80" text-anchor="end" class="t">90</text>
<text x="390.80" y="724.80" text-anchor="middle" class="t">0</text>
<text x="442.06" y="724.80" text-anchor="middle" class="t">300</text>
<text x="493.32" y="724.80" text-anchor="middle" class="t">600</text>
<text x="544.58" y="724.80" text-anchor="middle" class="t">900</text>
<text x="595.84" y="724.80" text-anchor="middle" class="t">1200</text>
<text x="647.10" y="724.80" text-anchor="middle" class="t">1500</text>
<text x="453.95" y="736.80" textLength="130" lengthAdjust="spacingAndGlyphs" class="yt">Elevation (m a.s.l.)</text>
<text x="395.80" y="513.10" class="pl">H</text>
<text x="550.00" y="629.80" class="r" fill="#806030"><tspan font-style="italic">R</tspan><tspan font-size="8.3" dy="-5.9">2</tspan><tspan dy="5.9">=0.42</tspan></text>
<text x="598.00" y="627.40" class="st" fill="#806030">***</text>
<text x="550.00" y="650.00" class="r" fill="#120e8c"><tspan font-style="italic">R</tspan><tspan font-size="8.3" dy="-5.9">2</tspan><tspan dy="5.9">=0.71</tspan></text>
<text x="598.00" y="647.60" class="st" fill="#120e8c">***</text>
<text x="550.00" y="670.20" class="r" fill="#26a626"><tspan font-style="italic">R</tspan><tspan font-size="8.3" dy="-5.9">2</tspan><tspan dy="5.9">=0.52</tspan></text>
<text x="598.00" y="667.80" class="st" fill="#26a626">***</text>
<text transform="translate(355.20,599.75) rotate(-90)" x="-54.55" y="0" textLength="109.1" lengthAdjust="spacingAndGlyphs" class="yt"><tspan>Vector angle (°)</tspan></text>
<text x="820.7" y="562.6" textLength="49.5" lengthAdjust="spacingAndGlyphs" class="yt">Region</text>
<path d="M806.5 582.6H828.1" stroke="#806030" stroke-width="1.9"/>
<circle cx="817.3" cy="582.6" r="3.5" fill="none" stroke="#806030" stroke-width="2"/>
<text x="841.3" y="587.6" textLength="49.1" lengthAdjust="spacingAndGlyphs" class="yt">DHSBR</text>
<path d="M806.5 602.7H828.1" stroke="#120e8c" stroke-width="1.9"/>
<path d="M813.8 602.7L817.3 598.5L820.8 602.7L817.3 606.9000000000001Z" fill="none" stroke="#120e8c" stroke-width="2"/>
<text x="841.3" y="607.7" textLength="47.2" lengthAdjust="spacingAndGlyphs" class="yt">LHSNR</text>
<path d="M806.5 623.7H828.1" stroke="#26a626" stroke-width="1.9"/>
<path d="M817.3 620.1L821.1999999999999 628.0L813.4 628.0Z" fill="none" stroke="#26a626" stroke-width="2"/>
<text x="841.3" y="628.7" textLength="45.2" lengthAdjust="spacingAndGlyphs" class="yt">JFLNR</text>
</svg></body></html>
